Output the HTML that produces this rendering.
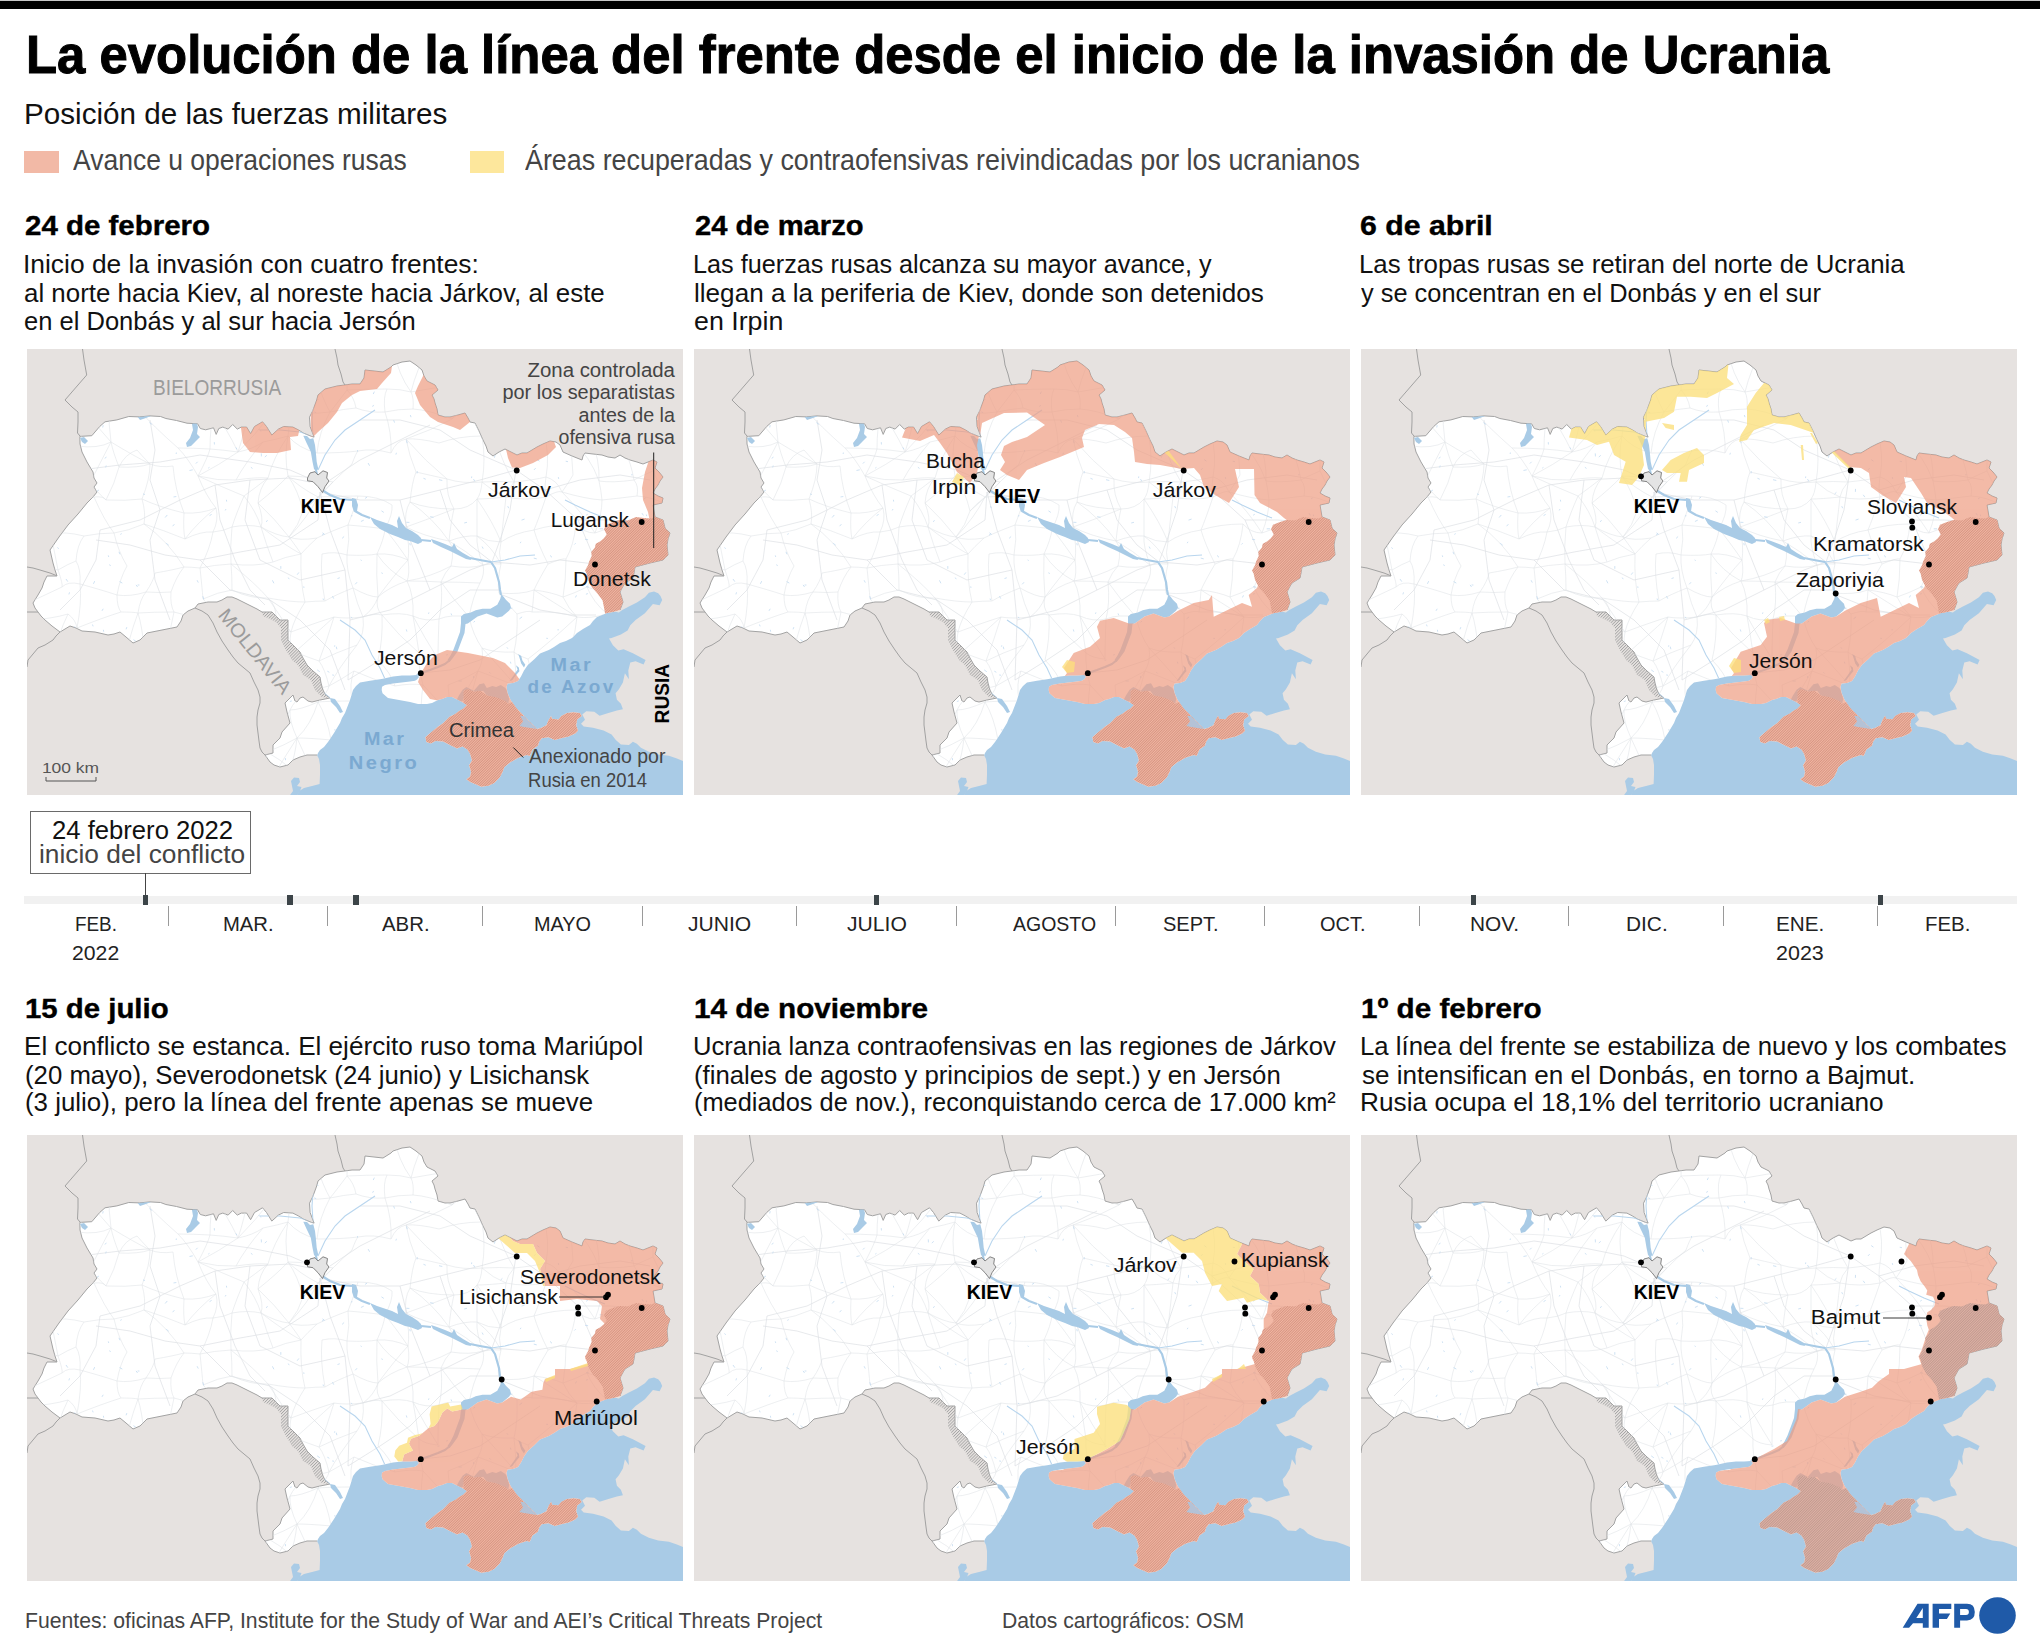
<!DOCTYPE html><html><head><meta charset="utf-8"><title>La evolución de la línea del frente</title><style>
html,body{margin:0;padding:0;background:#fff}body{width:2040px;height:1652px;position:relative;overflow:hidden;font-family:"Liberation Sans",sans-serif}
.t{position:absolute;white-space:nowrap;line-height:1;transform-origin:0 0}
.map{position:absolute;display:block}svg text{font-family:"Liberation Sans",sans-serif}
.abs{position:absolute}
</style></head><body>
<div class="abs" style="left:0;top:0;width:2040px;height:1px;background:#c8c8c8"></div>
<div class="abs" style="left:0;top:1px;width:2040px;height:8px;background:#000"></div>
<svg width="0" height="0" style="position:absolute"><defs>
<clipPath id="ua"><path d="M79.9 436.4 L91.8 435.7 L99.7 426.5 L105.0 421.8 L116.9 419.9 L128.8 416.5 L139.4 416.9 L150.0 415.9 L160.6 416.5 L165.9 418.5 L176.5 420.5 L187.0 423.2 L197.6 423.8 L200.3 428.5 L205.6 429.8 L213.5 427.8 L216.2 434.4 L218.8 428.5 L222.8 427.1 L228.1 429.1 L232.7 424.5 L237.3 429.1 L241.3 427.1 L246.6 427.1 L250.6 433.7 L254.5 426.5 L262.5 421.8 L266.5 426.5 L271.8 435.1 L278.4 429.1 L283.7 426.5 L292.9 427.1 L298.2 429.8 L303.5 433.1 L311.5 436.4 L314.1 437.1 L310.1 426.5 L309.5 417.2 L312.8 410.6 L316.7 400.0 L318.0 395.0 L325.0 389.0 L337.0 386.0 L352.0 384.0 L360.0 384.0 L364.0 378.0 L365.0 370.0 L374.0 371.0 L383.0 372.0 L391.0 367.0 L393.0 365.0 L402.0 362.0 L410.0 361.0 L416.0 365.0 L422.0 370.0 L424.0 376.0 L427.0 381.0 L435.0 385.0 L438.0 390.0 L432.0 395.0 L434.0 399.0 L435.0 403.0 L437.0 409.0 L438.0 415.0 L445.0 417.0 L450.0 417.0 L458.0 415.0 L465.0 413.0 L468.0 418.0 L470.0 422.0 L475.0 423.0 L479.0 431.0 L483.0 440.0 L486.0 446.0 L488.0 452.0 L493.0 456.0 L499.0 452.0 L505.0 449.0 L511.0 452.0 L517.0 455.0 L522.0 453.0 L527.0 453.0 L532.0 450.0 L537.0 447.0 L543.0 444.0 L550.0 441.0 L556.0 442.0 L560.0 445.0 L563.0 452.0 L572.0 456.0 L582.0 460.0 L583.0 456.0 L585.0 453.0 L593.0 454.0 L602.0 455.0 L608.0 457.0 L615.0 458.0 L620.0 455.0 L625.0 458.0 L630.0 460.0 L637.0 462.0 L643.0 464.0 L648.0 462.0 L653.0 460.0 L657.0 462.0 L655.0 468.0 L659.0 472.0 L663.0 477.0 L660.0 481.0 L658.0 485.0 L655.0 489.0 L653.0 493.0 L658.0 496.0 L663.0 498.0 L662.0 503.0 L653.0 505.0 L654.0 511.0 L655.0 517.0 L663.0 520.0 L664.0 524.0 L665.0 528.0 L670.0 533.0 L668.0 539.0 L667.0 545.0 L668.0 555.0 L663.0 560.0 L650.0 563.0 L635.0 567.0 L634.0 573.0 L633.0 578.0 L625.0 583.0 L622.0 588.0 L620.0 592.0 L623.0 602.0 L620.0 610.0 L613.0 612.0 L607.0 613.0 L597.0 617.0 L593.0 621.0 L590.0 625.0 L583.0 629.0 L577.0 633.0 L572.0 638.0 L566.0 641.0 L560.0 643.0 L554.0 647.0 L548.8 650.0 L540.0 653.5 L534.0 659.4 L528.0 664.7 L524.0 670.6 L521.0 676.5 L518.0 681.0 L513.0 683.0 L507.6 683.5 L506.5 687.0 L507.6 693.0 L510.6 700.0 L516.6 708.4 L524.1 715.9 L533.4 725.2 L537.1 728.9 L540.8 728.0 L546.4 725.2 L548.3 720.5 L551.1 715.9 L552.0 718.7 L558.5 719.6 L561.3 715.9 L566.9 713.1 L573.4 712.2 L580.0 713.1 L581.8 715.9 L577.2 719.6 L576.2 725.2 L578.1 730.8 L575.3 733.6 L568.8 736.4 L561.3 738.2 L554.8 740.1 L548.3 737.3 L541.8 738.2 L539.0 742.0 L538.0 745.7 L532.5 749.4 L529.7 755.9 L526.9 755.0 L518.5 757.8 L510.1 762.5 L504.5 767.1 L502.7 771.8 L499.9 777.3 L494.3 782.9 L488.7 785.7 L481.2 786.7 L476.6 784.8 L470.1 782.0 L466.3 779.2 L470.1 776.4 L471.0 771.8 L469.1 765.2 L471.9 760.6 L470.1 754.1 L467.3 749.4 L462.6 746.6 L457.0 748.5 L451.4 745.7 L443.0 741.5 L435.6 741.0 L430.9 743.4 L426.3 742.0 L425.4 737.3 L430.9 732.6 L437.5 727.1 L443.0 723.3 L449.6 716.8 L455.2 714.0 L458.9 711.2 L463.5 708.4 L467.0 705.0 L462.0 702.0 L458.0 700.0 L452.0 697.0 L447.0 697.0 L442.0 699.0 L438.0 700.0 L432.0 703.0 L427.0 704.0 L418.0 704.0 L410.0 702.0 L399.0 700.0 L388.0 698.0 L382.5 693.3 L381.7 690.0 L382.0 686.7 L385.0 685.0 L393.0 683.5 L401.7 682.5 L410.0 681.5 L415.0 680.8 L417.0 679.5 L419.0 677.0 L417.0 675.0 L410.0 675.5 L402.0 675.5 L393.0 676.5 L381.7 679.0 L370.0 680.8 L360.0 682.5 L356.0 686.0 L353.0 690.0 L350.0 700.0 L345.0 713.0 L342.0 718.0 L340.0 723.0 L334.0 733.0 L328.0 742.0 L324.0 747.0 L320.0 750.0 L318.0 753.0 L317.0 755.0 L307.0 755.0 L300.0 757.0 L293.0 760.0 L288.0 765.0 L280.0 767.0 L274.0 765.0 L270.0 762.0 L265.0 755.0 L273.0 753.0 L273.0 745.0 L280.0 738.0 L282.0 732.0 L290.0 723.0 L287.0 712.0 L285.0 703.0 L289.0 699.0 L293.0 695.0 L295.0 701.0 L297.0 702.0 L300.0 698.0 L303.0 697.0 L308.0 701.0 L312.0 702.0 L320.0 700.0 L330.0 698.0 L325.0 694.0 L323.0 690.0 L321.0 683.0 L320.0 677.0 L313.0 671.0 L307.0 665.0 L303.0 658.0 L300.0 652.0 L294.0 646.0 L288.0 640.0 L288.0 630.0 L288.0 620.0 L280.0 620.0 L276.0 616.0 L272.0 612.0 L262.0 612.0 L257.0 609.0 L253.0 607.0 L245.0 603.0 L237.0 599.0 L232.0 597.0 L227.0 597.0 L222.0 600.0 L217.0 602.0 L208.0 602.0 L198.0 604.0 L195.0 608.0 L188.0 611.0 L183.0 615.0 L181.0 621.0 L177.0 627.0 L162.0 630.0 L147.0 633.0 L143.0 637.0 L140.0 640.0 L133.0 643.0 L126.0 637.0 L120.0 632.0 L114.0 634.0 L108.0 635.0 L95.0 632.0 L82.0 631.0 L76.0 628.0 L70.0 626.0 L65.0 629.0 L60.0 632.0 L52.0 626.0 L45.0 620.0 L41.0 616.0 L38.0 612.0 L35.0 608.0 L33.0 603.0 L38.0 595.0 L42.0 588.0 L44.0 582.0 L47.0 576.0 L57.0 576.0 L55.0 570.0 L53.0 563.0 L50.0 550.0 L59.0 537.0 L68.0 525.0 L78.0 514.0 L87.0 503.0 L93.0 497.0 L97.0 492.0 L94.0 487.0 L97.0 483.0 L94.0 478.0 L93.0 472.0 L87.0 462.0 L82.0 452.0 L80.0 444.0 Z"/></clipPath>
<pattern id="hatch" width="1.8" height="1.8" patternUnits="userSpaceOnUse" patternTransform="rotate(-45)"><rect width="1.8" height="1.8" fill="#f0b6a3"/><rect width="1.8" height="0.7" fill="#d08c78"/></pattern>
<pattern id="hatch6" width="1.8" height="1.8" patternUnits="userSpaceOnUse" patternTransform="rotate(-45)"><rect width="1.8" height="1.8" fill="#deb1a4"/><rect width="1.8" height="0.7" fill="#b9948a"/></pattern>
<pattern id="hatchg" width="2.2" height="2.2" patternUnits="userSpaceOnUse" patternTransform="rotate(-45)"><rect width="2.2" height="2.2" fill="#e6e2e0"/><rect width="2.2" height="0.8" fill="#a5a5a5"/></pattern>
<g id="base">
<rect x="27" y="349" width="656" height="446" fill="#e6e2e0"/>
<path d="M317.0 755.0 L319.0 759.0 L320.0 765.0 L320.0 775.0 L319.6 784.0 L314.0 785.6 L304.0 788.0 L299.2 791.0 L296.8 796.0 L683.0 796.0 L683.0 761.0 L676.9 758.4 L668.9 755.8 L658.2 754.4 L648.9 751.8 L640.9 747.8 L636.9 743.8 L632.9 741.8 L628.9 745.1 L620.9 744.4 L615.6 739.8 L611.6 734.5 L603.6 730.5 L593.0 727.8 L583.7 726.5 L581.0 723.8 L585.0 719.8 L582.3 714.5 L586.3 711.2 L594.3 711.8 L599.6 715.8 L607.6 713.2 L616.9 710.5 L622.9 709.2 L620.9 703.8 L616.9 699.8 L615.6 693.2 L618.9 689.2 L622.9 682.5 L624.9 673.2 L628.9 679.2 L628.3 670.5 L630.3 662.6 L635.6 661.2 L643.6 664.6 L645.6 659.9 L632.9 653.2 L623.6 649.2 L618.3 650.6 L612.9 645.2 L609.0 638.6 L611.6 637.9 L620.9 634.6 L627.6 630.6 L630.3 625.3 L635.6 620.0 L644.9 613.3 L652.9 604.0 L659.6 605.3 L662.2 600.0 L660.5 596.0 L658.2 593.3 L654.0 591.5 L648.9 592.7 L644.9 597.3 L636.9 602.6 L628.9 606.6 L622.3 610.0 L618.9 612.6 L560.0 600.0 L480.0 640.0 L420.0 660.0 L350.0 680.0 L330.0 720.0 Z" fill="#a9cbe6"/>
<path d="M289.4 796.0 L293.0 791.0 L292.0 786.0 L291.0 781.0 L294.0 777.5 L299.0 778.0 L300.0 782.0 L297.0 786.0 L301.5 787.0 L300.0 791.0 L296.8 796.0 Z" fill="#a9cbe6"/>
<path d="M82.5 349.0 L84.0 360.0 L86.7 375.0 L78.0 385.0 L65.0 400.0 L72.0 407.0 L78.0 412.0 L78.0 422.0 L77.5 433.0 L80.0 436.0" fill="none" stroke="#9a9a9a" stroke-width="0.9"/>
<path d="M335.0 349.0 L337.0 358.0 L338.0 365.0 L341.0 374.0 L343.0 382.0 L345.0 385.0" fill="none" stroke="#9a9a9a" stroke-width="0.9"/>
<path d="M27.0 567.0 L33.0 568.0 L40.0 570.0 L50.0 573.0 L57.5 576.0" fill="none" stroke="#9a9a9a" stroke-width="0.9"/>
<path d="M27.0 612.0 L33.0 612.0 L38.0 612.0" fill="none" stroke="#9a9a9a" stroke-width="0.9"/>
<path d="M60.0 632.0 L56.0 636.0 L53.0 640.0 L45.0 645.0 L38.0 648.0 L33.0 654.0 L28.0 660.0 L27.0 667.0" fill="none" stroke="#9a9a9a" stroke-width="0.9"/>
<path d="M195.0 608.0 L202.0 611.0 L208.0 615.0 L213.0 623.0 L217.0 632.0 L222.0 641.0 L228.0 650.0 L233.0 657.0 L238.0 663.0 L244.0 668.0 L250.0 673.0 L254.0 682.0 L258.0 690.0 L260.0 697.0 L260.0 703.0 L258.0 710.0 L257.0 717.0 L257.0 725.0 L258.0 733.0 L259.0 741.0 L260.0 748.0 L262.0 752.0 L265.0 755.0" fill="none" stroke="#9a9a9a" stroke-width="0.9"/>
<path d="M262.0 612.0 L272.0 612.0 L280.0 620.0 L288.0 620.0 L288.0 640.0 L300.0 652.0 L307.0 665.0 L320.0 677.0 L323.0 690.0 L330.0 698.0 L322.0 697.0 L315.0 690.0 L311.0 680.0 L303.0 675.0 L298.0 665.0 L292.0 660.0 L286.0 650.0 L281.0 640.0 L281.0 628.0 L276.0 622.0 L268.0 618.0 L263.0 616.0 Z" fill="url(#hatchg)"/>
<path d="M79.9 436.4 L91.8 435.7 L99.7 426.5 L105.0 421.8 L116.9 419.9 L128.8 416.5 L139.4 416.9 L150.0 415.9 L160.6 416.5 L165.9 418.5 L176.5 420.5 L187.0 423.2 L197.6 423.8 L200.3 428.5 L205.6 429.8 L213.5 427.8 L216.2 434.4 L218.8 428.5 L222.8 427.1 L228.1 429.1 L232.7 424.5 L237.3 429.1 L241.3 427.1 L246.6 427.1 L250.6 433.7 L254.5 426.5 L262.5 421.8 L266.5 426.5 L271.8 435.1 L278.4 429.1 L283.7 426.5 L292.9 427.1 L298.2 429.8 L303.5 433.1 L311.5 436.4 L314.1 437.1 L310.1 426.5 L309.5 417.2 L312.8 410.6 L316.7 400.0 L318.0 395.0 L325.0 389.0 L337.0 386.0 L352.0 384.0 L360.0 384.0 L364.0 378.0 L365.0 370.0 L374.0 371.0 L383.0 372.0 L391.0 367.0 L393.0 365.0 L402.0 362.0 L410.0 361.0 L416.0 365.0 L422.0 370.0 L424.0 376.0 L427.0 381.0 L435.0 385.0 L438.0 390.0 L432.0 395.0 L434.0 399.0 L435.0 403.0 L437.0 409.0 L438.0 415.0 L445.0 417.0 L450.0 417.0 L458.0 415.0 L465.0 413.0 L468.0 418.0 L470.0 422.0 L475.0 423.0 L479.0 431.0 L483.0 440.0 L486.0 446.0 L488.0 452.0 L493.0 456.0 L499.0 452.0 L505.0 449.0 L511.0 452.0 L517.0 455.0 L522.0 453.0 L527.0 453.0 L532.0 450.0 L537.0 447.0 L543.0 444.0 L550.0 441.0 L556.0 442.0 L560.0 445.0 L563.0 452.0 L572.0 456.0 L582.0 460.0 L583.0 456.0 L585.0 453.0 L593.0 454.0 L602.0 455.0 L608.0 457.0 L615.0 458.0 L620.0 455.0 L625.0 458.0 L630.0 460.0 L637.0 462.0 L643.0 464.0 L648.0 462.0 L653.0 460.0 L657.0 462.0 L655.0 468.0 L659.0 472.0 L663.0 477.0 L660.0 481.0 L658.0 485.0 L655.0 489.0 L653.0 493.0 L658.0 496.0 L663.0 498.0 L662.0 503.0 L653.0 505.0 L654.0 511.0 L655.0 517.0 L663.0 520.0 L664.0 524.0 L665.0 528.0 L670.0 533.0 L668.0 539.0 L667.0 545.0 L668.0 555.0 L663.0 560.0 L650.0 563.0 L635.0 567.0 L634.0 573.0 L633.0 578.0 L625.0 583.0 L622.0 588.0 L620.0 592.0 L623.0 602.0 L620.0 610.0 L613.0 612.0 L607.0 613.0 L597.0 617.0 L593.0 621.0 L590.0 625.0 L583.0 629.0 L577.0 633.0 L572.0 638.0 L566.0 641.0 L560.0 643.0 L554.0 647.0 L548.8 650.0 L540.0 653.5 L534.0 659.4 L528.0 664.7 L524.0 670.6 L521.0 676.5 L518.0 681.0 L513.0 683.0 L507.6 683.5 L506.5 687.0 L507.6 693.0 L510.6 700.0 L516.6 708.4 L524.1 715.9 L533.4 725.2 L537.1 728.9 L540.8 728.0 L546.4 725.2 L548.3 720.5 L551.1 715.9 L552.0 718.7 L558.5 719.6 L561.3 715.9 L566.9 713.1 L573.4 712.2 L580.0 713.1 L581.8 715.9 L577.2 719.6 L576.2 725.2 L578.1 730.8 L575.3 733.6 L568.8 736.4 L561.3 738.2 L554.8 740.1 L548.3 737.3 L541.8 738.2 L539.0 742.0 L538.0 745.7 L532.5 749.4 L529.7 755.9 L526.9 755.0 L518.5 757.8 L510.1 762.5 L504.5 767.1 L502.7 771.8 L499.9 777.3 L494.3 782.9 L488.7 785.7 L481.2 786.7 L476.6 784.8 L470.1 782.0 L466.3 779.2 L470.1 776.4 L471.0 771.8 L469.1 765.2 L471.9 760.6 L470.1 754.1 L467.3 749.4 L462.6 746.6 L457.0 748.5 L451.4 745.7 L443.0 741.5 L435.6 741.0 L430.9 743.4 L426.3 742.0 L425.4 737.3 L430.9 732.6 L437.5 727.1 L443.0 723.3 L449.6 716.8 L455.2 714.0 L458.9 711.2 L463.5 708.4 L467.0 705.0 L462.0 702.0 L458.0 700.0 L452.0 697.0 L447.0 697.0 L442.0 699.0 L438.0 700.0 L432.0 703.0 L427.0 704.0 L418.0 704.0 L410.0 702.0 L399.0 700.0 L388.0 698.0 L382.5 693.3 L381.7 690.0 L382.0 686.7 L385.0 685.0 L393.0 683.5 L401.7 682.5 L410.0 681.5 L415.0 680.8 L417.0 679.5 L419.0 677.0 L417.0 675.0 L410.0 675.5 L402.0 675.5 L393.0 676.5 L381.7 679.0 L370.0 680.8 L360.0 682.5 L356.0 686.0 L353.0 690.0 L350.0 700.0 L345.0 713.0 L342.0 718.0 L340.0 723.0 L334.0 733.0 L328.0 742.0 L324.0 747.0 L320.0 750.0 L318.0 753.0 L317.0 755.0 L307.0 755.0 L300.0 757.0 L293.0 760.0 L288.0 765.0 L280.0 767.0 L274.0 765.0 L270.0 762.0 L265.0 755.0 L273.0 753.0 L273.0 745.0 L280.0 738.0 L282.0 732.0 L290.0 723.0 L287.0 712.0 L285.0 703.0 L289.0 699.0 L293.0 695.0 L295.0 701.0 L297.0 702.0 L300.0 698.0 L303.0 697.0 L308.0 701.0 L312.0 702.0 L320.0 700.0 L330.0 698.0 L325.0 694.0 L323.0 690.0 L321.0 683.0 L320.0 677.0 L313.0 671.0 L307.0 665.0 L303.0 658.0 L300.0 652.0 L294.0 646.0 L288.0 640.0 L288.0 630.0 L288.0 620.0 L280.0 620.0 L276.0 616.0 L272.0 612.0 L262.0 612.0 L257.0 609.0 L253.0 607.0 L245.0 603.0 L237.0 599.0 L232.0 597.0 L227.0 597.0 L222.0 600.0 L217.0 602.0 L208.0 602.0 L198.0 604.0 L195.0 608.0 L188.0 611.0 L183.0 615.0 L181.0 621.0 L177.0 627.0 L162.0 630.0 L147.0 633.0 L143.0 637.0 L140.0 640.0 L133.0 643.0 L126.0 637.0 L120.0 632.0 L114.0 634.0 L108.0 635.0 L95.0 632.0 L82.0 631.0 L76.0 628.0 L70.0 626.0 L65.0 629.0 L60.0 632.0 L52.0 626.0 L45.0 620.0 L41.0 616.0 L38.0 612.0 L35.0 608.0 L33.0 603.0 L38.0 595.0 L42.0 588.0 L44.0 582.0 L47.0 576.0 L57.0 576.0 L55.0 570.0 L53.0 563.0 L50.0 550.0 L59.0 537.0 L68.0 525.0 L78.0 514.0 L87.0 503.0 L93.0 497.0 L97.0 492.0 L94.0 487.0 L97.0 483.0 L94.0 478.0 L93.0 472.0 L87.0 462.0 L82.0 452.0 L80.0 444.0 Z" fill="#fff"/>
<path d="M79.9 436.4 L91.8 435.7 L99.7 426.5 L105.0 421.8 L116.9 419.9 L128.8 416.5 L139.4 416.9 L150.0 415.9 L160.6 416.5 L165.9 418.5 L176.5 420.5 L187.0 423.2 L197.6 423.8 L200.3 428.5 L205.6 429.8 L213.5 427.8 L216.2 434.4 L218.8 428.5 L222.8 427.1 L228.1 429.1 L232.7 424.5 L237.3 429.1 L241.3 427.1 L246.6 427.1 L250.6 433.7 L254.5 426.5 L262.5 421.8 L266.5 426.5 L271.8 435.1 L278.4 429.1 L283.7 426.5 L292.9 427.1 L298.2 429.8 L303.5 433.1 L311.5 436.4 L314.1 437.1 L310.1 426.5 L309.5 417.2 L312.8 410.6 L316.7 400.0 L318.0 395.0 L325.0 389.0 L337.0 386.0 L352.0 384.0 L360.0 384.0 L364.0 378.0 L365.0 370.0 L374.0 371.0 L383.0 372.0 L391.0 367.0 L393.0 365.0 L402.0 362.0 L410.0 361.0 L416.0 365.0 L422.0 370.0 L424.0 376.0 L427.0 381.0 L435.0 385.0 L438.0 390.0 L432.0 395.0 L434.0 399.0 L435.0 403.0 L437.0 409.0 L438.0 415.0 L445.0 417.0 L450.0 417.0 L458.0 415.0 L465.0 413.0 L468.0 418.0 L470.0 422.0 L475.0 423.0 L479.0 431.0 L483.0 440.0 L486.0 446.0 L488.0 452.0 L493.0 456.0 L499.0 452.0 L505.0 449.0 L511.0 452.0 L517.0 455.0 L522.0 453.0 L527.0 453.0 L532.0 450.0 L537.0 447.0 L543.0 444.0 L550.0 441.0 L556.0 442.0 L560.0 445.0 L563.0 452.0 L572.0 456.0 L582.0 460.0 L583.0 456.0 L585.0 453.0 L593.0 454.0 L602.0 455.0 L608.0 457.0 L615.0 458.0 L620.0 455.0 L625.0 458.0 L630.0 460.0 L637.0 462.0 L643.0 464.0 L648.0 462.0 L653.0 460.0 L657.0 462.0 L655.0 468.0 L659.0 472.0 L663.0 477.0 L660.0 481.0 L658.0 485.0 L655.0 489.0 L653.0 493.0 L658.0 496.0 L663.0 498.0 L662.0 503.0 L653.0 505.0 L654.0 511.0 L655.0 517.0 L663.0 520.0 L664.0 524.0 L665.0 528.0 L670.0 533.0 L668.0 539.0 L667.0 545.0 L668.0 555.0 L663.0 560.0 L650.0 563.0 L635.0 567.0 L634.0 573.0 L633.0 578.0 L625.0 583.0 L622.0 588.0 L620.0 592.0 L623.0 602.0 L620.0 610.0" fill="none" stroke="#a3a3a3" stroke-width="1" stroke-linejoin="round"/>
<path d="M317.0 755.0 L307.0 755.0 L300.0 757.0 L293.0 760.0 L288.0 765.0 L280.0 767.0 L274.0 765.0 L270.0 762.0 L265.0 755.0 L273.0 753.0 L273.0 745.0 L280.0 738.0 L282.0 732.0 L290.0 723.0 L287.0 712.0 L285.0 703.0 L289.0 699.0 L293.0 695.0 L295.0 701.0 L297.0 702.0 L300.0 698.0 L303.0 697.0 L308.0 701.0 L312.0 702.0 L320.0 700.0 L330.0 698.0 L325.0 694.0 L323.0 690.0 L321.0 683.0 L320.0 677.0 L313.0 671.0 L307.0 665.0 L303.0 658.0 L300.0 652.0 L294.0 646.0 L288.0 640.0 L288.0 630.0 L288.0 620.0 L280.0 620.0 L276.0 616.0 L272.0 612.0 L262.0 612.0 L257.0 609.0 L253.0 607.0 L245.0 603.0 L237.0 599.0 L232.0 597.0 L227.0 597.0 L222.0 600.0 L217.0 602.0 L208.0 602.0 L198.0 604.0 L195.0 608.0 L188.0 611.0 L183.0 615.0 L181.0 621.0 L177.0 627.0 L162.0 630.0 L147.0 633.0 L143.0 637.0 L140.0 640.0 L133.0 643.0 L126.0 637.0 L120.0 632.0 L114.0 634.0 L108.0 635.0 L95.0 632.0 L82.0 631.0 L76.0 628.0 L70.0 626.0 L65.0 629.0 L60.0 632.0 L52.0 626.0 L45.0 620.0 L41.0 616.0 L38.0 612.0 L35.0 608.0 L33.0 603.0 L38.0 595.0 L42.0 588.0 L44.0 582.0 L47.0 576.0 L57.0 576.0 L55.0 570.0 L53.0 563.0 L50.0 550.0 L59.0 537.0 L68.0 525.0 L78.0 514.0 L87.0 503.0 L93.0 497.0 L97.0 492.0 L94.0 487.0 L97.0 483.0 L94.0 478.0 L93.0 472.0 L87.0 462.0 L82.0 452.0 L80.0 444.0 L79.9 436.4" fill="none" stroke="#a3a3a3" stroke-width="1" stroke-linejoin="round"/>
<g clip-path="url(#ua)" fill="none">
<path d="M23 344Q45 346 58 342M23 344Q28 357 30 373M30 373Q36 369 47 376M30 373Q28 395 28 409M30 373Q50 389 61 410M28 409Q37 391 47 376M17 442Q16 460 17 471M17 442Q36 458 56 468M17 471Q32 465 56 468M18 493Q19 521 25 539M25 539Q37 534 51 534M25 539Q25 552 19 556M19 556Q35 563 58 570M30 602Q45 595 62 587M29 620Q51 619 68 614M29 620Q31 629 37 642M37 642Q43 652 55 658M37 642Q32 655 35 677M19 704Q29 710 47 716M19 704Q20 724 23 749M23 749Q45 750 63 744M23 749Q18 765 20 774M20 774Q45 768 65 768M20 774Q22 783 30 799M30 799Q45 807 61 804M58 342Q76 348 89 351M58 342Q76 370 94 392M47 376Q65 392 86 416M61 410Q61 426 53 444M53 444Q68 450 77 446M53 444Q55 457 56 468M56 468Q70 473 90 483M56 468Q61 484 63 506M56 468Q73 484 94 497M63 506Q76 505 94 497M63 506Q53 516 51 534M51 534Q64 531 84 536M51 534Q54 550 58 570M58 570Q68 564 76 561M58 570Q63 584 62 587M62 587Q68 581 80 584M68 614Q76 620 77 628M68 614Q57 636 55 658M55 658Q68 651 79 646M55 658Q49 668 49 682M49 682Q67 689 85 690M49 682Q69 669 79 646M47 716Q58 718 78 711M47 716Q59 731 63 744M47 716Q69 700 85 690M63 744Q79 750 88 750M63 744Q61 755 65 768M65 768Q77 776 94 780M65 768Q74 787 82 800M65 768Q80 755 88 750M61 804Q72 803 82 800M89 351Q102 355 114 360M89 351Q91 371 94 392M89 351Q109 363 127 374M94 392Q113 386 127 374M94 392Q87 403 86 416M94 392Q98 398 110 406M94 392Q104 376 114 360M86 416Q100 407 110 406M86 416Q85 431 77 446M86 416Q99 427 111 442M77 446Q98 449 111 442M77 446Q87 462 90 483M90 483Q101 496 106 500M90 483Q99 465 111 442M94 497Q104 496 106 500M94 497Q104 520 114 533M84 536Q99 533 114 533M84 536Q77 545 76 561M76 561Q81 569 80 584M80 584Q102 590 117 595M80 584Q82 602 77 628M77 628Q102 618 121 612M79 646Q102 649 126 658M79 646Q77 672 85 690M85 690Q83 699 78 711M85 690Q95 696 115 710M78 711Q96 714 115 710M78 711Q80 732 88 750M78 711Q88 726 108 745M78 711Q100 697 125 689M88 750Q99 745 108 745M88 750Q91 762 94 780M94 780Q97 773 107 762M82 800Q91 799 111 795M114 360Q130 351 143 342M127 374Q136 370 136 374M127 374Q118 388 110 406M127 374Q135 387 138 409M110 406Q108 425 111 442M111 442Q113 452 119 467M111 442Q134 456 150 464M119 467Q138 468 150 464M119 467Q115 483 106 500M119 467Q125 454 137 450M106 500Q126 501 142 499M114 533Q128 531 144 524M114 533Q118 551 127 566M127 566Q120 578 117 595M117 595Q130 597 146 592M117 595Q117 607 121 612M121 612Q134 612 138 613M126 658Q137 653 144 647M126 658Q123 675 125 689M126 658Q144 663 154 675M126 658Q128 640 138 613M125 689Q136 677 154 675M125 689Q122 701 115 710M115 710Q126 714 137 722M108 745Q132 744 148 734M108 745Q125 749 148 762M108 745Q126 737 137 722M107 762Q131 763 148 762M107 762Q105 775 111 795M111 795Q128 799 148 813M143 342Q166 348 185 356M143 342Q144 358 136 374M136 374Q149 376 172 379M136 374Q140 390 138 409M138 409Q158 409 170 418M138 409Q153 426 178 448M137 450Q143 457 150 464M150 464Q160 468 173 466M150 464Q150 479 142 499M142 499Q159 507 184 513M142 499Q146 513 144 524M144 524Q163 530 185 539M144 524Q168 541 184 567M155 573Q173 570 184 567M155 573Q154 580 146 592M146 592Q161 593 171 592M146 592Q140 599 138 613M138 613Q153 612 174 612M138 613Q142 626 144 647M144 647Q152 645 167 647M144 647Q152 657 154 675M144 647Q155 665 172 686M154 675Q161 677 172 686M154 675Q165 657 167 647M137 722Q167 719 187 711M137 722Q141 725 148 734M137 722Q151 703 172 686M148 734Q166 746 187 753M148 734Q148 749 148 762M148 734Q168 722 187 711M148 762Q172 765 187 769M148 762Q150 786 148 813M185 356Q196 353 200 345M185 356Q178 366 172 379M172 379Q190 388 210 391M172 379Q172 396 170 418M170 418Q191 417 214 412M178 448Q193 448 210 449M178 448Q188 458 198 476M173 466Q175 490 184 513M184 513Q201 514 216 508M184 513Q183 530 185 539M185 539Q201 531 213 532M185 539Q198 522 216 508M184 567Q191 567 200 568M184 567Q176 577 171 592M171 592Q170 605 174 612M174 612Q198 619 217 620M174 612Q170 630 167 647M167 647Q187 658 205 662M172 686Q188 684 212 675M172 686Q183 696 187 711M187 711Q190 703 199 704M187 711Q185 729 187 753M187 753Q203 752 216 749M187 753Q191 764 187 769M187 753Q196 770 199 779M187 769Q196 775 199 779M187 769Q174 787 171 796M171 796Q191 798 218 805M200 345Q214 353 234 353M200 345Q202 372 210 391M210 391Q221 385 229 371M210 391Q215 398 214 412M214 412Q230 417 247 415M214 412Q210 427 210 449M214 412Q226 427 238 452M210 449Q224 450 238 452M210 449Q208 457 198 476M198 476Q218 481 236 480M198 476Q206 496 216 508M198 476Q222 487 244 496M198 476Q219 465 238 452M216 508Q219 520 213 532M213 532Q224 531 232 527M213 532Q210 549 200 568M200 568Q213 565 231 564M200 568Q202 587 203 599M203 599Q218 592 232 590M203 599Q215 611 217 620M217 620Q221 626 229 631M217 620Q214 636 205 662M205 662Q215 654 234 651M205 662Q205 672 212 675M212 675Q229 684 239 691M212 675Q207 691 199 704M199 704Q219 712 235 721M199 704Q203 723 216 749M199 704Q221 728 237 743M216 749Q230 749 237 743M216 749Q205 762 199 779M199 779Q220 775 238 761M199 779Q209 788 218 805M199 779Q221 788 236 795M218 805Q222 799 236 795M229 371Q240 378 260 381M229 371Q235 388 247 415M229 371Q252 388 272 413M247 415Q263 411 272 413M247 415Q245 431 238 452M238 452Q253 449 263 442M238 452Q256 434 272 413M236 480Q256 477 268 478M236 480Q245 463 263 442M244 496Q236 514 232 527M244 496Q256 511 261 527M244 496Q255 488 268 478M232 527Q248 524 261 527M232 527Q230 547 231 564M231 564Q255 567 273 562M231 564Q232 575 232 590M231 564Q255 583 268 598M232 590Q251 599 268 598M229 631Q256 625 276 621M229 631Q232 645 234 651M234 651Q249 651 269 652M234 651Q239 675 239 691M234 651Q254 672 267 686M239 691Q251 692 267 686M235 721Q246 717 266 713M235 721Q233 734 237 743M237 743Q254 747 267 752M237 743Q235 755 238 761M238 761Q258 774 271 780M238 761Q237 782 236 795M236 795Q257 793 277 797M256 359Q279 359 298 362M256 359Q257 370 260 381M256 359Q276 371 304 374M260 381Q278 379 304 374M260 381Q262 398 272 413M272 413Q276 417 289 411M263 442Q278 439 288 436M268 478Q259 488 258 503M268 478Q273 458 288 436M258 503Q264 519 261 527M258 503Q275 519 289 537M258 503Q278 487 288 476M261 527Q277 536 289 537M261 527Q266 544 273 562M261 527Q286 546 301 554M273 562Q284 557 301 554M268 598Q290 602 305 602M268 598Q277 605 276 621M268 598Q282 619 291 632M276 621Q284 629 291 632M276 621Q271 634 269 652M276 621Q285 633 295 652M269 652Q284 647 295 652M269 652Q265 665 267 686M267 686Q280 665 295 652M267 752Q285 745 297 738M267 752Q265 763 271 780M267 752Q281 760 290 768M267 752Q282 729 290 710M271 780Q277 772 290 768M271 780Q284 758 297 738M277 797Q288 778 290 768M298 362Q299 368 304 374M304 374Q307 375 316 378M289 411Q307 415 330 412M289 411Q290 421 288 436M289 411Q306 393 316 378M288 436Q298 448 317 453M288 436Q284 455 288 476M288 476Q307 476 333 482M288 476Q298 490 303 511M288 476Q299 487 318 497M303 511Q308 505 318 497M303 511Q299 525 289 537M303 511Q321 496 333 482M289 537Q299 541 317 538M289 537Q298 549 301 554M289 537Q308 517 318 497M301 554Q300 582 305 602M301 554Q307 547 317 538M305 602Q316 601 325 601M305 602Q294 619 291 632M291 632Q315 623 334 617M291 632Q288 646 295 652M295 652Q307 657 319 661M295 652Q306 668 308 689M295 652Q312 637 334 617M308 689Q314 690 329 686M308 689Q294 701 290 710M290 710Q300 710 318 702M290 710Q289 721 297 738M297 738Q310 738 331 740M297 738Q295 757 290 768M297 738Q308 763 318 782M297 738Q311 725 318 702M290 768Q303 778 318 782M290 768Q295 784 302 791M302 791Q314 799 330 809M316 378Q323 400 330 412M330 412Q344 409 356 408M330 412Q319 432 317 453M330 412Q335 406 347 390M317 453Q342 453 358 451M333 482Q344 471 352 464M333 482Q324 490 318 497M318 497Q338 496 358 496M317 538Q329 532 348 525M322 554Q335 551 347 555M322 554Q320 575 325 601M325 601Q335 595 353 588M334 617Q345 619 363 617M334 617Q327 640 319 661M319 661Q335 653 357 645M319 661Q325 669 329 686M329 686Q342 679 354 671M329 686Q328 692 318 702M329 686Q338 669 357 645M318 702Q330 701 352 701M318 702Q327 717 331 740M331 740Q343 740 362 743M331 740Q326 762 318 782M318 782Q336 779 350 771M318 782Q324 798 330 809M330 809Q352 796 367 793M348 360Q371 360 394 351M348 360Q347 378 347 390M347 390Q366 389 387 389M347 390Q354 397 356 408M356 408Q369 413 385 412M358 451Q373 448 391 453M358 451Q356 453 352 464M358 496Q379 496 392 505M358 496Q354 510 348 525M348 525Q372 527 385 529M348 525Q350 539 347 555M347 555Q367 556 377 554M347 555Q346 570 353 588M353 588Q369 597 378 597M353 588Q357 604 363 617M363 617Q375 613 382 615M363 617Q365 634 357 645M363 617Q374 609 378 597M354 671Q372 679 395 686M354 671Q349 683 352 701M352 701Q372 705 382 706M352 701Q356 725 362 743M362 743Q370 746 382 741M362 743Q358 754 350 771M350 771Q366 771 379 771M367 793Q371 805 382 812M367 793Q369 779 379 771M394 351Q414 353 427 353M394 351Q398 374 411 392M387 389Q401 389 411 392M387 389Q383 397 385 412M385 412Q398 409 413 409M385 412Q392 433 391 453M391 453Q396 441 406 439M392 505Q393 514 385 529M385 529Q394 531 406 527M385 529Q384 539 377 554M385 529Q395 541 408 560M377 554Q393 553 408 560M377 554Q376 575 378 597M377 554Q388 571 407 581M378 597Q389 587 407 581M378 597Q375 608 382 615M378 597Q395 574 408 560M382 615Q401 612 413 616M382 615Q383 640 378 660M382 615Q399 636 419 653M378 660Q391 673 395 686M395 686Q411 683 423 685M382 706Q403 710 422 720M382 706Q399 723 415 738M382 741Q397 741 415 738M382 741Q379 755 379 771M382 741Q402 756 428 764M379 771Q400 768 428 764M379 771Q381 789 382 812M379 771Q399 785 422 805M379 771Q399 752 415 738M382 812Q406 811 422 805M427 353Q417 368 411 392M411 392Q432 388 456 385M411 392Q414 398 413 409M413 409Q429 410 452 419M406 439Q418 438 439 443M406 439Q409 455 416 472M406 439Q425 461 447 479M406 439Q432 430 452 419M416 472Q429 475 447 479M416 472Q412 482 410 502M410 502Q427 509 454 509M410 502Q404 512 406 527M410 502Q433 518 449 541M406 527Q423 536 449 541M406 527Q410 547 408 560M406 527Q434 517 454 509M408 560Q410 574 407 581M407 581Q426 581 441 582M407 581Q414 595 413 616M407 581Q431 577 451 566M413 616Q426 622 439 619M413 616Q416 632 419 653M413 616Q424 637 438 659M419 653Q425 658 438 659M419 653Q418 666 423 685M423 685Q420 707 422 720M423 685Q437 699 450 716M422 720Q438 715 450 716M422 720Q419 729 415 738M415 738Q429 733 447 731M415 738Q417 749 428 764M428 764Q437 769 454 777M428 764Q423 781 422 805M428 764Q432 788 447 803M422 805Q437 809 447 803M437 359Q459 350 481 342M437 359Q447 367 456 385M456 385Q470 385 482 377M456 385Q451 399 452 419M456 385Q457 399 468 407M452 419Q457 414 468 407M452 419Q470 401 482 377M439 443Q459 436 482 436M447 479Q463 484 482 482M447 479Q446 495 454 509M454 509Q469 509 477 499M454 509Q451 521 449 541M449 541Q465 535 477 536M449 541Q455 549 451 566M449 541Q465 550 483 565M451 566Q470 569 483 565M451 566Q445 572 441 582M441 582Q459 582 480 583M441 582Q443 604 439 619M441 582Q453 599 469 617M439 619Q451 614 469 617M439 619Q438 644 438 659M448 685Q465 679 478 671M448 685Q450 705 450 716M450 716Q457 715 467 707M450 716Q445 725 447 731M450 716Q466 692 478 671M447 731Q463 739 481 746M447 731Q449 750 454 777M454 777Q463 776 481 767M454 777Q446 790 447 803M447 803Q459 803 477 801M447 803Q464 786 481 767M481 342Q492 339 506 344M481 342Q485 360 482 377M482 377Q495 381 516 375M482 377Q471 395 468 407M482 377Q499 361 506 344M468 407Q489 417 518 422M468 407Q472 420 482 436M468 407Q483 421 496 441M482 436Q488 442 496 441M482 436Q486 460 482 482M482 482Q501 481 514 482M482 482Q481 494 477 499M482 482Q493 492 506 497M477 499Q487 499 506 497M477 499Q477 521 477 536M477 499Q493 522 501 542M477 536Q488 542 501 542M477 536Q476 546 483 565M477 536Q492 547 501 564M483 565Q494 563 501 564M483 565Q485 574 480 583M480 583Q473 596 469 617M469 617Q473 635 482 648M482 648Q495 653 514 652M482 648Q484 661 478 671M482 648Q497 664 516 686M478 671Q492 676 516 686M478 671Q473 690 467 707M467 707Q485 712 501 721M467 707Q474 731 481 746M467 707Q483 721 507 732M481 746Q494 737 507 732M481 746Q481 761 481 767M481 746Q492 736 501 721M481 767Q480 786 477 801M477 801Q495 804 506 798M506 344Q520 348 529 349M506 344Q512 358 516 375M516 375Q520 381 533 389M516 375Q521 398 518 422M518 422Q520 416 526 418M518 422Q511 431 496 441M496 441Q517 433 544 434M496 441Q503 464 514 482M514 482Q534 480 546 477M514 482Q507 490 506 497M506 497Q525 501 546 497M506 497Q503 523 501 542M501 542Q514 533 534 530M501 542Q498 552 501 564M501 564Q497 580 499 593M499 593Q520 595 534 590M499 593Q504 600 517 614M517 614Q529 610 532 612M517 614Q518 635 514 652M514 652Q517 655 528 659M514 652Q516 668 516 686M516 686Q524 684 532 692M501 721Q517 716 531 707M501 721Q500 723 507 732M501 721Q522 724 537 735M507 732Q522 734 537 735M507 732Q503 753 496 772M496 772Q517 780 534 782M496 772Q499 787 506 798M506 798Q526 808 545 809M506 798Q515 790 534 782M529 349Q552 353 570 361M533 389Q551 382 577 383M533 389Q525 404 526 418M526 418Q532 422 544 434M544 434Q554 440 572 441M544 434Q550 455 546 477M546 477Q544 491 546 497M546 477Q557 480 562 492M546 497Q558 490 562 492M546 497Q539 518 534 530M534 530Q553 524 576 524M534 530Q538 544 548 564M548 564Q562 558 566 559M548 564Q538 581 534 590M534 590Q551 592 563 597M534 590Q533 605 532 612M534 590Q558 605 577 617M532 612Q559 611 577 617M528 659Q534 680 532 692M528 659Q549 643 577 617M532 692Q554 682 568 680M532 692Q528 696 531 707M532 692Q550 674 570 648M531 707Q549 710 560 705M531 707Q532 724 537 735M531 707Q550 691 568 680M537 735Q545 738 561 751M534 782Q550 770 567 766M534 782Q537 797 545 809M534 782Q557 797 576 813M534 782Q546 766 561 751M570 361Q588 356 596 344M570 361Q571 369 577 383M577 383Q579 378 590 373M577 383Q575 391 572 402M577 383Q587 395 594 403M572 402Q585 407 594 403M572 441Q581 444 591 437M572 441Q571 457 573 475M572 441Q590 456 599 481M573 475Q569 482 562 492M562 492Q586 499 602 500M562 492Q581 511 595 533M576 524Q584 533 595 533M576 524Q574 545 566 559M566 559Q566 580 563 597M563 597Q575 593 587 587M563 597Q568 608 577 617M577 617Q590 619 607 614M577 617Q576 632 570 648M570 648Q588 652 597 655M570 648Q570 667 568 680M570 648Q592 630 607 614M568 680Q590 682 605 676M568 680Q579 696 592 706M560 705Q572 703 592 706M560 705Q559 731 561 751M561 751Q577 751 595 741M561 751Q563 758 567 766M567 766Q589 771 607 780M567 766Q569 788 576 813M576 813Q588 803 605 791M576 813Q588 798 607 780M596 344Q605 348 617 357M596 344Q617 366 636 381M590 373Q612 380 636 381M590 373Q591 383 594 403M594 403Q609 401 629 401M594 403Q596 418 591 437M591 437Q600 461 599 481M599 481Q612 483 634 480M599 481Q601 490 602 500M602 500Q621 498 637 496M602 500Q602 515 595 533M595 533Q607 529 618 524M594 558Q606 564 627 566M594 558Q594 575 587 587M594 558Q613 573 637 597M587 587Q608 595 637 597M587 587Q593 602 607 614M607 614Q621 620 630 628M607 614Q607 637 597 655M607 614Q620 606 637 597M597 655Q616 652 626 653M597 655Q599 663 605 676M605 676Q610 677 617 688M605 676Q602 694 592 706M592 706Q602 714 621 721M592 706Q593 724 595 741M595 741Q605 761 607 780M595 741Q605 754 619 767M607 780Q611 771 619 767M607 780Q604 788 605 791M605 791Q622 798 630 806M617 357Q632 351 648 343M617 357Q630 365 636 381M636 381Q651 383 658 384M629 401Q640 401 655 406M629 401Q648 413 659 431M629 401Q639 395 658 384M625 451Q631 463 634 480M634 480Q639 477 653 471M634 480Q639 486 637 496M637 496Q653 497 667 505M618 524Q645 533 665 531M618 524Q618 544 627 566M627 566Q635 561 651 556M627 566Q631 583 637 597M627 566Q651 577 667 597M630 628Q644 620 653 611M630 628Q643 645 657 656M626 653Q637 651 657 656M626 653Q625 674 617 688M617 688Q637 687 655 677M617 688Q623 706 621 721M617 688Q637 704 661 721M621 721Q638 724 661 721M621 721Q621 730 630 738M621 721Q637 729 651 732M630 738Q636 735 651 732M630 738Q626 748 619 767M619 767Q638 765 653 770M619 767Q629 785 630 806M630 806Q642 797 661 795M648 343Q671 350 694 357M648 343Q653 360 658 384M658 384Q671 377 687 376M658 384Q653 391 655 406M655 406Q680 402 697 408M659 431Q679 431 694 436M659 431Q652 449 653 471M659 431Q669 455 681 478M653 471Q661 485 667 505M667 505Q670 506 682 512M667 505Q671 514 665 531M665 531Q661 544 651 556M665 531Q678 521 682 512M651 556Q662 556 681 560M651 556Q661 573 667 597M651 556Q666 538 687 525M667 597Q684 604 691 602M667 597Q660 604 653 611M653 611Q667 613 679 620M653 611Q658 637 657 656M653 611Q669 635 681 662M653 611Q676 608 691 602M657 656Q665 662 681 662M661 721Q660 725 651 732M651 732Q657 754 653 770M653 770Q670 776 692 783M653 770Q657 787 661 795M661 795Q682 800 696 798M697 408Q692 423 694 436M681 478Q683 498 682 512M682 512Q680 518 687 525M687 525Q680 546 681 560M681 560Q687 581 691 602M691 602Q682 609 679 620M681 662Q678 663 679 672M679 672Q680 690 677 710M677 710Q690 726 696 750M696 750Q689 770 692 783M692 783Q692 795 696 798" stroke="#e1e4e8" stroke-width="0.6"/>
<g stroke="#dde0e4" stroke-width="0.7">
<path d="M80.0 470.0 L120.0 465.0 L160.0 462.0 L200.0 455.0 L250.0 462.0 L290.0 470.0 L313.0 480.0"/>
<path d="M100.0 530.0 L140.0 520.0 L180.0 500.0 L215.0 485.0 L250.0 480.0 L290.0 478.0 L310.0 482.0"/>
<path d="M96.0 540.0 L130.0 545.0 L165.0 555.0 L200.0 560.0 L240.0 552.0 L280.0 545.0 L318.0 520.0 L320.0 492.0"/>
<path d="M150.0 420.0 L155.0 450.0 L150.0 480.0 L160.0 510.0 L150.0 540.0 L155.0 580.0 L170.0 620.0"/>
<path d="M215.0 485.0 L220.0 520.0 L235.0 560.0 L250.0 590.0 L265.0 605.0"/>
<path d="M320.0 492.0 L330.0 530.0 L345.0 570.0 L350.0 620.0 L348.0 680.0"/>
<path d="M320.0 492.0 L360.0 500.0 L400.0 500.0 L440.0 490.0 L480.0 480.0 L516.0 470.0"/>
<path d="M330.0 480.0 L360.0 460.0 L400.0 440.0 L430.0 425.0"/>
<path d="M350.0 620.0 L390.0 610.0 L430.0 590.0 L470.0 570.0 L492.0 562.0"/>
<path d="M348.0 680.0 L380.0 660.0 L410.0 640.0 L440.0 610.0 L470.0 590.0 L500.0 590.0"/>
<path d="M516.0 470.0 L510.0 510.0 L500.0 540.0 L492.0 562.0"/>
<path d="M516.0 470.0 L545.0 490.0 L578.0 520.0 L595.0 560.0"/>
<path d="M492.0 562.0 L530.0 565.0 L560.0 560.0 L595.0 564.0"/>
<path d="M500.0 594.0 L540.0 610.0 L570.0 615.0 L596.0 615.0"/>
<path d="M421.0 673.0 L450.0 670.0 L480.0 660.0 L510.0 640.0 L540.0 620.0"/>
<path d="M100.0 530.0 L96.0 560.0 L80.0 590.0 L60.0 610.0"/>
<path d="M200.0 560.0 L230.0 590.0 L270.0 600.0 L300.0 620.0 L330.0 650.0 L345.0 690.0"/>
<path d="M250.0 480.0 L245.0 520.0 L260.0 560.0 L300.0 580.0 L345.0 570.0"/>
<path d="M400.0 500.0 L410.0 540.0 L430.0 590.0"/>
<path d="M440.0 490.0 L450.0 520.0 L470.0 545.0 L492.0 562.0"/>
<path d="M360.0 420.0 L400.0 420.0 L440.0 430.0 L470.0 450.0 L516.0 470.0"/>
<path d="M545.0 490.0 L580.0 480.0 L620.0 475.0 L650.0 480.0"/>
<path d="M578.0 520.0 L610.0 520.0 L641.0 522.0"/>
</g>
<path d="M265.1 456.8l1.4 -1.2M602.6 528.8l-2.5 0.0M356.8 780.2l0.8 2.1M138.0 585.0l1.0 0.0M635.1 554.3l0.4 -1.0M258.7 404.7l-2.2 -0.8M361.3 521.3l2.1 -1.0M458.1 394.1l-1.1 -1.0M643.2 515.1l-1.0 -1.6M273.7 582.9l-1.1 -2.2M351.3 515.9l0.7 -0.1M565.1 651.1l-1.4 -0.5M511.9 738.9l-0.3 -2.1M57.3 499.6l1.6 1.9M601.0 423.1l-1.5 -0.9M64.6 527.9l-0.0 -1.9M213.4 684.5l-0.4 1.6M302.1 775.8l-1.3 -1.8M464.6 522.9l2.0 -0.5M473.7 479.4l0.9 1.5M559.4 697.7l-0.5 0.7M362.7 733.1l1.1 1.8M143.4 494.0l1.1 0.4M278.2 771.0l0.9 -0.2M231.5 761.2l0.4 1.2M313.3 407.9l-0.1 1.4M279.8 769.6l-0.1 1.0M612.1 552.5l1.0 -1.6M529.4 495.1l1.2 1.7M333.6 598.3l-1.0 -1.8M209.9 515.4l1.4 -0.8M218.1 628.6l-0.1 2.1M61.2 711.7l-1.2 -0.5M631.9 474.3l0.0 0.7M383.3 680.8l-0.6 -1.3M547.9 409.1l-0.7 1.8M649.2 630.1l-0.8 -2.0M285.5 759.8l-0.1 -1.3M284.3 702.8l-0.6 0.8M588.5 586.9l-1.9 -0.3M607.5 418.5l-0.4 0.6M297.4 574.4l1.2 -1.6M401.9 532.8l-1.0 -0.5M571.4 695.5l0.5 -0.8M461.4 681.0l-2.4 -0.0M605.7 676.3l0.8 -1.7M593.0 417.5l-0.6 -1.9M423.8 478.4l1.6 0.7M558.4 477.5l0.2 1.0M94.6 648.0l2.2 -0.4M263.4 657.9l2.0 1.0M241.5 363.5l-0.6 -0.6M209.7 387.0l-1.6 0.6M547.7 378.8l0.4 -0.7M177.5 628.3l-0.7 1.1M396.0 454.2l0.3 -1.0M568.0 704.1l-0.6 -0.2M529.1 374.0l-1.4 -0.0M75.0 628.5l-0.3 -1.7M289.1 578.6l-0.9 -0.6M586.0 783.2l0.8 -2.4M244.2 779.2l1.4 0.7M119.9 554.0l-0.8 -1.8M323.7 506.5l0.5 1.3M214.4 444.1l-0.1 -1.6M313.5 445.6l-0.3 -1.0M203.7 599.0l-0.8 -2.4M509.8 763.1l1.8 -1.0M491.9 388.5l0.2 0.6M583.4 667.4l-0.8 -0.8M260.7 431.2l-1.7 -1.9M229.1 380.7l0.6 1.2M605.9 702.3l-0.8 0.2M102.8 427.1l0.3 -1.5M664.0 747.7l0.4 -1.5M556.9 416.3l1.3 1.1M357.5 450.5l-0.0 0.6M612.1 662.4l2.4 -0.9M312.3 671.8l-1.7 1.5M569.3 418.6l1.0 0.1M406.7 522.3l2.3 0.1M534.1 558.2l2.3 0.6M374.2 392.0l-0.8 1.7M597.2 567.0l-0.6 -0.8M189.6 745.2l-0.6 0.5M410.4 415.4l0.5 1.4M406.8 631.2l-0.4 -1.4M77.9 668.5l1.5 0.5M289.1 646.6l-0.2 -1.1M447.5 654.7l-0.9 0.2M612.2 615.4l1.0 0.4M661.6 458.7l-1.7 1.4M558.1 630.1l-0.0 -0.7M94.6 774.9l0.2 -0.6M65.9 463.7l0.9 -0.4M461.6 755.5l-1.6 -1.9M202.0 426.9l2.1 0.2M100.9 773.6l-0.2 -0.9M547.5 430.9l-0.8 -0.1M534.7 738.3l0.5 -0.3M575.6 597.1l0.7 -1.4M428.6 613.5l0.2 -0.7M69.4 592.7l-0.4 1.3M39.8 677.1l2.2 0.3M550.3 555.7l1.4 1.3M166.5 543.5l2.0 1.6M381.8 511.1l1.7 1.1M574.6 720.8l1.1 0.8M227.2 684.5l1.1 1.5M656.4 687.2l0.7 0.0M107.2 654.9l-1.3 -1.0M324.3 534.3l-1.5 -1.2M616.9 671.9l0.7 -2.3M566.6 665.2l1.9 0.4M574.7 544.2l0.7 -0.7M633.6 548.9l-0.3 -1.1M225.8 509.4l-0.4 0.7M316.2 776.9l-1.4 -2.0M519.1 716.0l2.1 -0.1M209.1 467.6l-0.5 0.3M181.5 736.9l1.1 -0.6M524.2 689.8l1.7 -1.4M372.8 406.4l0.6 -1.1M433.1 517.3l-2.5 -0.6M137.3 586.6l-1.0 -1.4M630.6 534.4l1.7 -1.0M649.3 399.9l0.3 1.1M610.6 367.8l-0.1 2.0M663.5 436.6l-1.8 0.8M473.6 677.6l0.0 -1.1M198.3 373.7l-0.4 -0.9M199.8 769.9l-1.1 -1.4M451.6 614.9l-0.4 -1.1M75.6 390.3l1.3 0.1M125.3 409.7l-2.5 0.1M471.6 477.7l0.1 -0.9M98.6 490.2l-1.7 1.1M317.5 670.1l2.0 1.4M252.4 714.1l2.2 0.4M178.7 723.7l0.6 -1.8M211.3 366.1l0.9 2.2M135.4 640.9l-1.6 -1.0M149.7 422.8l2.1 1.5M278.2 637.9l-0.9 -0.4M76.1 368.3l0.5 -0.7M646.6 515.8l-0.2 -0.9M535.4 468.4l-1.1 1.2M105.8 467.0l0.3 -1.1M276.8 685.5l0.2 1.0M174.1 524.5l-1.2 1.4M334.6 729.9l1.8 0.6M566.1 461.3l1.5 0.3M108.6 556.6l-0.2 -0.8M109.8 564.8l0.5 0.9M314.6 412.0l1.2 0.5M332.9 758.2l-0.7 -0.2M176.2 676.8l-2.2 -0.9M646.2 724.9l1.9 1.6M368.3 463.4l1.1 2.0M169.9 397.1l-0.2 2.4M327.7 671.4l1.3 0.7M236.8 448.9l-0.7 -1.1M111.0 778.3l-1.0 0.1M41.9 638.2l-0.6 -0.1M333.6 675.2l-1.0 -0.2M351.9 617.9l-0.5 -0.7M545.3 762.0l-0.1 -2.3M268.5 743.9l0.4 1.0M414.7 743.4l0.9 0.5M57.8 547.7l0.6 0.8M510.6 608.7l1.3 -0.5M466.2 367.3l1.0 -0.3M337.9 578.4l1.5 -0.5M664.8 624.8l0.5 2.2M163.2 784.8l-1.0 0.3M645.4 498.1l-1.1 0.7M459.6 371.7l-0.6 0.7M560.8 362.1l-0.9 -0.7M323.4 599.7l-0.2 -0.8M187.7 413.0l0.9 -0.2M122.0 582.9l-2.1 -1.2M71.1 461.1l0.9 1.5M322.3 535.0l1.5 -1.2M581.2 766.8l-0.3 2.5M293.9 383.8l0.7 -0.4M46.1 484.5l-0.6 2.5M587.7 539.7l-2.3 -0.4M547.5 638.4l-0.8 -0.1M189.8 640.4l-1.9 -1.1M605.7 769.1l0.3 0.7M604.9 603.2l0.8 1.8M197.3 462.1l-1.1 1.2M465.1 393.1l-0.1 -1.8M334.5 646.3l0.2 -0.6M336.8 648.8l-0.5 -1.8M149.5 767.4l0.2 -1.0M308.5 767.2l0.4 1.4M645.6 742.7l0.2 2.1M263.4 642.6l0.1 -0.9M176.3 452.9l-0.1 0.7M121.4 533.8l-0.7 0.4M404.8 760.6l-1.2 -0.6M482.3 546.9l0.7 1.4M46.2 647.9l0.7 1.1M646.2 686.3l1.0 -1.6M438.0 660.2l1.0 -0.2M521.5 489.3l-0.1 2.2M416.7 721.4l1.3 -1.3M160.9 368.3l-2.0 -0.4M208.0 391.6l0.9 0.0M476.9 363.7l0.1 1.1M486.5 779.6l0.8 0.1M628.5 772.3l0.8 1.0M366.7 497.4l-1.4 0.8M199.2 385.3l0.8 0.5M93.0 626.0l-0.4 -1.1M537.8 670.3l-0.9 1.3M154.6 755.0l-0.7 -0.3M132.7 655.0l-1.5 1.3M180.7 699.2l0.3 -0.7M407.2 442.9l-0.6 -2.1M537.5 459.8l1.6 1.1M393.8 420.5l0.6 1.7M103.5 630.2l0.1 1.1M303.9 587.5l-0.1 -0.7M495.0 455.5l-0.5 1.8M473.9 622.0l0.8 -0.6M232.6 642.2l-0.1 0.9M178.7 688.3l0.9 -1.8M643.8 698.0l-0.4 1.1M493.0 385.5l-0.6 -0.5M66.2 579.3l1.4 2.0M592.1 557.3l0.3 0.8M356.8 582.5l-1.3 1.5M371.1 690.0l0.6 0.5M280.8 566.5l-0.0 1.9M175.9 496.6l-2.0 0.3M524.2 519.2l-2.3 0.8M628.0 623.7l1.2 0.9M439.4 479.8l2.5 0.6M612.6 416.5l-1.8 0.4M225.5 391.0l0.0 -2.1M312.7 398.3l-0.6 0.5M646.8 383.7l-0.5 2.1M120.8 407.1l0.8 0.4M372.7 714.4l0.5 0.8M520.8 542.1l-0.4 0.7M189.2 773.1l0.8 0.8M505.3 739.2l1.3 -0.9M642.3 617.5l-0.4 1.5M489.7 672.5l0.7 0.7M643.5 407.3l0.5 -1.2M192.4 469.9l-2.5 0.5M129.3 723.5l-0.4 0.9M507.9 506.5l0.6 1.3M556.8 727.1l-0.6 -0.3M519.8 618.6l2.0 -1.5M242.7 720.9l0.5 -1.0M267.3 520.5l-0.8 1.1M105.0 458.1l1.2 -0.8M438.7 737.3l0.0 -1.1M618.9 702.2l2.1 -0.1M514.3 705.9l-0.0 1.9M276.7 717.2l1.1 1.2M248.6 709.1l-1.3 1.9M573.4 733.8l1.6 1.9M507.6 648.3l-0.4 -0.6M587.5 593.7l-1.2 0.4M532.1 692.9l0.7 -0.8M251.2 467.5l1.0 0.7M51.5 698.9l0.1 0.7M78.0 675.5l0.5 1.4M290.2 701.4l1.2 -0.4M436.5 740.5l-2.4 0.4M500.9 493.8l1.2 -1.2M102.2 610.5l0.8 -1.4M342.4 538.1l1.4 -1.3M167.0 515.3l-1.6 1.9M476.9 414.8l0.6 -0.3M410.2 544.9l-0.3 -1.4M93.6 583.5l0.9 -2.0M261.4 456.0l-0.1 -2.2M174.1 735.6l1.5 -0.1M276.7 662.3l0.9 -0.4M226.6 501.2l-0.1 -1.0M382.3 573.6l-0.4 -0.8M642.5 785.0l-2.0 -0.8M151.4 747.0l-2.0 -0.7M586.5 515.0l0.9 -0.5M49.9 574.5l1.9 -1.4M641.4 578.1l1.6 -0.7M126.2 628.9l0.5 -1.4M417.3 471.6l-0.2 1.4M360.9 560.1l0.5 0.3M251.0 665.3l-0.0 -1.1M197.3 580.6l0.8 1.6M609.1 447.4l-1.8 -1.0M510.8 663.2l-0.3 -1.1M567.4 753.3l2.4 0.8M316.1 398.5l2.0 0.9" stroke="#c3dbf0" stroke-width="0.8" stroke-linecap="round"/>
</g>
<g clip-path="url(#ua)">
<path d="M313.0 406.0 L312.0 420.0 L313.0 436.0" fill="none" stroke="#b9d6ee" stroke-width="1.1"/>
<path d="M316.0 470.0 L318.0 480.0 L322.0 490.0 L330.0 495.0 L340.0 499.0 L352.0 500.0" fill="none" stroke="#a9cbe6" stroke-width="2.2" stroke-linejoin="round"/>
<path d="M355.0 511.0 L362.0 515.0 L370.0 518.0" fill="none" stroke="#a9cbe6" stroke-width="2.2" stroke-linejoin="round"/>
<path d="M421.0 540.0 L431.0 541.0" fill="none" stroke="#a9cbe6" stroke-width="2.2" stroke-linejoin="round"/>
<path d="M470.0 558.0 L480.0 560.0 L491.0 562.0 L495.0 568.0 L497.0 575.0 L499.0 582.0 L500.0 590.0 L501.0 595.0" fill="none" stroke="#a9cbe6" stroke-width="2.2" stroke-linejoin="round"/>
<path d="M450.0 660.0 L445.0 664.0 L438.0 667.0 L430.0 670.0 L421.0 673.0 L415.0 677.0" fill="none" stroke="#a9cbe6" stroke-width="2.2" stroke-linejoin="round"/>
<path d="M318.0 470.0 L325.0 455.0 L335.0 440.0 L345.0 430.0 L360.0 420.0 L375.0 410.0" fill="none" stroke="#b9d6ee" stroke-width="1.1"/>
<path d="M313.0 436.0 L300.0 432.0 L280.0 430.0 L260.0 430.0" fill="none" stroke="#b9d6ee" stroke-width="1.1"/>
<path d="M385.0 679.0 L380.0 668.0 L372.0 655.0 L365.0 640.0 L355.0 630.0 L340.0 620.0" fill="none" stroke="#b9d6ee" stroke-width="1.1"/>
<path d="M330.0 698.0 L320.0 690.0 L310.0 675.0 L300.0 660.0 L292.0 645.0" fill="none" stroke="#b9d6ee" stroke-width="1.1"/>
<path d="M565.0 500.0 L575.0 505.0 L590.0 512.0 L605.0 518.0" fill="none" stroke="#b9d6ee" stroke-width="1.1"/>
<path d="M491.0 562.0 L505.0 560.0 L520.0 556.0 L535.0 555.0" fill="none" stroke="#b9d6ee" stroke-width="1.1"/>
<path d="M303.3 435.8 L307.0 436.0 L310.0 439.0 L313.3 438.3 L315.0 445.0 L315.8 451.7 L316.7 461.7 L318.3 469.0 L316.0 471.0 L314.0 469.0 L312.5 461.7 L310.8 451.7 L306.7 443.3 Z" fill="#a9cbe6"/>
<path d="M352.0 498.0 L356.0 499.0 L358.0 505.0 L357.0 511.0 L354.0 512.0 L352.0 506.0 Z" fill="#a9cbe6"/>
<path d="M370.0 517.0 L377.0 520.0 L383.0 522.0 L392.0 525.0 L398.0 528.0 L397.0 521.0 L399.0 516.0 L402.0 523.0 L406.0 528.0 L412.0 531.0 L418.0 535.0 L421.0 538.0 L422.0 542.0 L418.0 544.0 L410.0 541.0 L405.0 540.0 L398.0 537.0 L390.0 534.0 L380.0 529.0 L374.0 524.0 Z" fill="#a9cbe6"/>
<path d="M431.0 539.0 L437.0 541.0 L445.0 544.0 L452.0 547.0 L454.0 543.0 L457.0 549.0 L463.0 553.0 L470.0 557.0 L471.0 560.0 L466.0 559.0 L458.0 555.0 L450.0 551.0 L441.0 547.0 L433.0 543.0 Z" fill="#a9cbe6"/>
<path d="M461.0 616.5 L463.9 614.1 L470.8 612.6 L475.7 610.2 L482.5 608.7 L490.4 608.7 L497.3 604.8 L500.2 598.9 L501.2 595.0 L502.2 595.0 L506.1 599.9 L510.0 603.8 L511.0 607.7 L509.0 610.7 L502.2 616.5 L497.3 617.5 L486.5 613.6 L477.6 616.5 L467.8 623.4 L465.5 624.0 L464.5 633.0 L460.5 643.5 L457.5 651.5 L452.5 658.5 L449.5 662.0 L447.5 660.0 L450.5 655.5 L453.5 649.5 L456.5 641.5 L460.0 632.0 L461.0 623.0 Z" fill="#a9cbe6"/>
<path d="M515.9 665.3 L518.8 667.6 L519.4 671.2 L515.9 675.3 L512.4 680.0 L509.4 681.2 L515.3 673.0 L517.6 669.4 Z" fill="#a9cbe6"/>
<path d="M518.2 654.0 L521.2 655.9 L522.4 660.6 L525.3 664.7 L524.0 667.6 L521.2 663.5 L519.4 657.6 Z" fill="#a9cbe6"/>
<path d="M186.0 443.0 L190.0 438.0 L193.0 430.0 L192.0 424.0 L196.0 421.0 L198.0 427.0 L197.0 434.0 L200.0 437.0 L196.0 441.0 L191.0 446.0 L187.0 447.0 Z" fill="#a9cbe6"/>
<path d="M137.0 416.0 L145.0 414.0 L151.0 416.0 L146.0 418.0 L140.0 420.0 Z" fill="#a9cbe6"/>
<path d="M80.0 438.0 L84.0 437.0 L88.0 441.0 L85.0 444.0 L82.0 442.0 Z" fill="#a9cbe6"/>
<path d="M330.0 698.0 L335.0 699.0 L340.0 706.0 L343.0 712.0 L340.0 713.0 L336.0 707.0 L331.0 702.0 Z" fill="#a9cbe6"/>
<path d="M462.6 689.8 L466.3 687.0 L473.8 690.7 L479.4 684.2 L484.0 683.3 L486.8 687.9 L492.4 686.1 L496.1 687.0 L500.8 685.1 L505.4 687.9 L507.3 691.7 L509.2 699.1 L508.2 703.8 L504.5 701.0 L496.1 699.1 L492.4 697.3 L486.8 695.4 L483.1 690.7 L477.5 692.6 L471.9 690.7 L468.2 691.7 L464.5 695.4 L462.6 701.0 L458.0 703.8 L456.1 701.0 L458.9 695.4 Z" fill="#a9cbe6"/>
</g>
</g>
</defs></svg>
<svg class="map" style="left:27px;top:349px" width="656" height="446" viewBox="27 349 656 446">
<use href="#base"/>
<g clip-path="url(#ua)">
<g opacity="0.7">
<path d="M241.0 415.0 L301.0 415.0 L300.0 427.0 L298.0 436.0 L290.0 437.0 L291.0 450.0 L277.0 453.0 L263.0 453.0 L250.0 452.0 L243.0 443.0 L241.0 428.0 Z" fill="#ee9c81"/>
<path d="M311.0 437.0 L313.0 437.0 L318.0 432.0 L328.0 423.0 L337.0 412.0 L342.0 403.0 L352.0 395.0 L360.0 391.0 L377.0 389.0 L382.0 383.0 L391.0 373.0 L392.0 366.0 L392.0 355.0 L310.0 355.0 Z" fill="#ee9c81"/>
<path d="M424.0 374.0 L418.0 386.0 L415.0 393.0 L420.0 405.0 L430.0 417.0 L438.0 422.0 L453.0 427.0 L460.0 430.0 L470.0 422.0 L480.0 410.0 L440.0 370.0 Z" fill="#ee9c81"/>
<path d="M505.0 445.0 L508.0 458.0 L512.0 467.5 L520.0 468.0 L533.0 463.0 L548.0 455.0 L556.0 447.0 L552.0 436.0 Z" fill="#ee9c81"/>
<path d="M650.0 455.0 L648.0 463.0 L645.0 472.0 L642.0 488.0 L643.0 500.0 L648.0 512.0 L650.0 522.0 L675.0 522.0 L675.0 455.0 Z" fill="#ee9c81"/>
<path d="M421.0 673.0 L427.0 663.0 L435.0 655.0 L447.0 650.0 L468.0 653.0 L493.0 658.0 L505.0 663.0 L515.0 673.0 L520.0 680.0 L520.0 710.0 L455.0 715.0 L440.0 701.0 L430.0 699.0 L423.0 690.0 L418.0 682.0 Z" fill="#ee9c81"/>
</g><g opacity="0.78">
</g>
<path d="M604.0 529.3 L606.0 524.7 L613.0 522.0 L619.5 520.0 L627.8 520.5 L636.0 517.0 L644.0 518.0 L651.0 518.5 L655.0 517.0 L700.0 517.0 L700.0 620.0 L606.0 620.0 L605.0 613.0 L604.0 607.5 L602.5 600.3 L597.0 593.0 L591.7 587.0 L588.0 579.7 L586.6 573.6 L585.0 570.5 L588.0 565.3 L589.2 561.2 L591.7 556.0 L591.2 552.0 L594.8 547.8 L595.8 543.7 L600.0 541.6 L603.6 538.6 L606.7 534.4 Z" fill="url(#hatch)"/>
<path d="M467.0 705.0 L463.5 704.7 L463.5 690.7 L468.2 688.9 L473.8 691.7 L480.3 690.7 L486.8 695.4 L496.1 697.3 L505.4 701.0 L508.2 703.8 L512.0 702.0 L520.0 692.0 L600.0 700.0 L600.0 800.0 L400.0 800.0 L400.0 730.0 Z" fill="url(#hatch)"/>
<path d="M520.4 715.9 L523.1 721.5 L519.4 726.1 L524.1 727.1 L537.0 729.0 L533.4 725.2 L524.1 715.9 Z" fill="#b4c2d6"/>
</g>
<path d="M307.5 478.0 L310.0 473.0 L315.0 471.7 L318.0 475.0 L323.0 470.8 L327.5 472.5 L326.7 478.0 L329.0 481.0 L325.0 486.7 L322.5 492.5 L318.0 486.7 L313.0 481.7 L307.5 480.8 Z" fill="#e4e4e4" stroke="#777" stroke-width="0.9"/>
<circle cx="516.7" cy="470.5" r="2.9" fill="#000"/>
<circle cx="641.7" cy="522.0" r="2.9" fill="#000"/>
<circle cx="595.0" cy="564.5" r="2.9" fill="#000"/>
<circle cx="420.8" cy="673.2" r="2.9" fill="#000"/>
<text transform="translate(153.12,394.70) scale(0.8756,1)" font-size="21.78" font-weight="400" fill="#9b9b9b" >BIELORRUSIA</text>
<text transform="translate(300.73,512.50) scale(0.9661,1)" font-size="19.70" font-weight="700" fill="#000" >KIEV</text>
<text transform="translate(488.00,496.70) scale(1.0836,1)" font-size="19.70" font-weight="400" fill="#111" >Járkov</text>
<text transform="translate(550.65,526.70) scale(1.0504,1)" font-size="19.70" font-weight="400" fill="#111" >Lugansk</text>
<text transform="translate(572.92,585.80) scale(1.0787,1)" font-size="19.70" font-weight="400" fill="#111" >Donetsk</text>
<text transform="translate(374.00,665.00) scale(1.0784,1)" font-size="19.70" font-weight="400" fill="#111" >Jersón</text>
<text transform="translate(448.98,736.70) scale(1.0241,1)" font-size="19.70" font-weight="400" fill="#333" >Crimea</text>
<text transform="translate(527.50,376.70) scale(1.0363,1)" font-size="19.70" font-weight="400" fill="#444" >Zona controlada</text>
<text transform="translate(502.49,399.00) scale(1.0096,1)" font-size="19.70" font-weight="400" fill="#444" >por los separatistas</text>
<text transform="translate(578.50,421.70) scale(1.0013,1)" font-size="19.70" font-weight="400" fill="#444" >antes de la</text>
<text transform="translate(558.50,444.00) scale(0.9945,1)" font-size="19.70" font-weight="400" fill="#444" >ofensiva rusa</text>
<path d="M653.7 452.5 V548" stroke="#222" stroke-width="1"/>
<text transform="translate(529.00,763.30) scale(0.9887,1)" font-size="19.70" font-weight="400" fill="#444" >Anexionado por</text>
<text transform="translate(528.06,786.70) scale(0.9364,1)" font-size="19.70" font-weight="400" fill="#444" >Rusia en 2014</text>
<path d="M513.3 747.5 L523.3 757.5" stroke="#222" stroke-width="1"/>
<text transform="translate(363.89,745.00) scale(1.1118,1)" font-size="17.78" font-weight="700" fill="#7ba9d1"  letter-spacing="2.2">Mar</text>
<text transform="translate(348.87,769.00) scale(1.1303,1)" font-size="17.78" font-weight="700" fill="#7ba9d1"  letter-spacing="2.2">Negro</text>
<text transform="translate(550.59,670.80) scale(1.1146,1)" font-size="17.78" font-weight="700" fill="#7ba9d1"  letter-spacing="2.2">Mar</text>
<text transform="translate(527.50,693.00) scale(1.0622,1)" font-size="17.78" font-weight="700" fill="#7ba9d1"  letter-spacing="2.2">de Azov</text>
<g transform="translate(669,722.5) rotate(-90)"><text transform="translate(-0.97,0.00) scale(0.9744,1)" font-size="19.70" font-weight="700" fill="#000" >RUSIA</text></g>
<g transform="translate(228,608) rotate(51)"><text transform="translate(-1.03,13.00) scale(1.0284,1)" font-size="19.70" font-weight="400" fill="#9b9b9b" >MOLDAVIA</text></g>
<text transform="translate(41.88,773.00) scale(1.1217,1)" font-size="15.56" font-weight="400" fill="#555" >100 km</text>
<path d="M46 777 V781 H96 V777" fill="none" stroke="#555" stroke-width="1"/>
</svg>
<svg class="map" style="left:694px;top:349px" width="656" height="446" viewBox="27 349 656 446">
<use href="#base"/>
<g clip-path="url(#ua)">
<g opacity="0.7">
<path d="M235.0 437.5 L242.0 420.0 L315.0 420.0 L312.0 436.0 L310.0 445.0 L312.0 462.0 L310.0 473.0 L303.0 483.0 L297.0 478.0 L290.0 472.0 L280.0 453.0 L273.0 443.0 L267.0 435.0 L253.0 441.0 Z" fill="#ee9c81"/>
<path d="M313.0 436.0 L315.0 423.0 L337.0 413.0 L360.0 412.5 L378.0 425.0 L360.0 437.0 L345.0 442.0 L337.0 446.0 L334.0 455.0 L338.0 462.0 L333.0 470.0 L340.0 475.0 L352.0 480.0 L360.0 470.0 L377.0 463.0 L393.0 457.0 L417.0 447.0 L415.0 438.0 L418.0 430.0 L432.0 424.0 L447.0 425.0 L458.0 432.0 L465.0 438.0 L467.0 452.0 L468.0 462.0 L480.0 464.0 L493.0 465.0 L515.0 469.0 L527.0 468.0 L533.0 475.0 L537.0 487.0 L548.0 495.0 L562.0 503.0 L572.0 487.0 L568.0 469.0 L587.0 469.0 L587.5 495.0 L593.0 503.0 L610.0 512.0 L617.0 518.0 L625.0 524.0 L690.0 524.0 L690.0 350.0 L305.0 350.0 L310.0 417.0 Z" fill="#ee9c81"/>
<path d="M406.7 653.0 L423.0 646.7 L433.0 638.0 L430.0 626.7 L433.0 620.8 L446.7 618.0 L462.0 623.4 L467.8 623.4 L477.6 616.5 L486.5 613.6 L497.3 617.5 L502.2 616.5 L511.0 610.7 L526.7 603.0 L541.7 600.0 L545.0 595.0 L546.7 616.7 L575.0 603.0 L585.0 606.7 L581.7 595.0 L590.0 588.0 L593.0 580.0 L620.0 580.0 L640.0 640.0 L560.0 720.0 L440.0 720.0 L375.0 700.0 L375.0 685.0 L395.0 680.0 L400.0 673.0 L397.0 668.0 Z" fill="#ee9c81"/>
</g><g opacity="0.78">
<path d="M290.0 473.0 L297.0 477.0 L294.0 486.0 L285.0 482.0 Z" fill="#fcdf7c"/>
<path d="M497.0 452.0 L501.0 450.0 L515.0 469.0 Z" fill="#fcdf7c"/>
<path d="M395.0 667.0 L400.0 660.0 L408.0 662.0 L407.0 672.0 L400.0 673.0 Z" fill="#fcdf7c"/>
</g>
<path d="M604.0 529.3 L606.0 524.7 L613.0 522.0 L619.5 520.0 L627.8 520.5 L636.0 517.0 L644.0 518.0 L651.0 518.5 L655.0 517.0 L700.0 517.0 L700.0 620.0 L606.0 620.0 L605.0 613.0 L604.0 607.5 L602.5 600.3 L597.0 593.0 L591.7 587.0 L588.0 579.7 L586.6 573.6 L585.0 570.5 L588.0 565.3 L589.2 561.2 L591.7 556.0 L591.2 552.0 L594.8 547.8 L595.8 543.7 L600.0 541.6 L603.6 538.6 L606.7 534.4 Z" fill="url(#hatch)"/>
<path d="M467.0 705.0 L463.5 704.7 L463.5 690.7 L468.2 688.9 L473.8 691.7 L480.3 690.7 L486.8 695.4 L496.1 697.3 L505.4 701.0 L508.2 703.8 L512.0 702.0 L520.0 692.0 L600.0 700.0 L600.0 800.0 L400.0 800.0 L400.0 730.0 Z" fill="url(#hatch)"/>
<path d="M520.4 715.9 L523.1 721.5 L519.4 726.1 L524.1 727.1 L537.0 729.0 L533.4 725.2 L524.1 715.9 Z" fill="#b4c2d6"/>
</g>
<path d="M307.5 478.0 L310.0 473.0 L315.0 471.7 L318.0 475.0 L323.0 470.8 L327.5 472.5 L326.7 478.0 L329.0 481.0 L325.0 486.7 L322.5 492.5 L318.0 486.7 L313.0 481.7 L307.5 480.8 Z" fill="#e4e4e4" stroke="#777" stroke-width="0.9"/>
<circle cx="516.7" cy="470.5" r="2.9" fill="#000"/>
<circle cx="641.7" cy="522.0" r="2.9" fill="#000"/>
<circle cx="595.0" cy="564.5" r="2.9" fill="#000"/>
<circle cx="420.8" cy="673.2" r="2.9" fill="#000"/>
<circle cx="307.0" cy="476.3" r="2.9" fill="#000"/>
<text transform="translate(258.94,467.50) scale(1.0570,1)" font-size="19.70" font-weight="400" fill="#111" >Bucha</text>
<text transform="translate(264.64,494.00) scale(1.1610,1)" font-size="19.70" font-weight="400" fill="#111" >Irpin</text>
<text transform="translate(327.00,503.00) scale(1.0040,1)" font-size="19.70" font-weight="700" fill="#000" >KIEV</text>
<text transform="translate(485.80,496.70) scale(1.0870,1)" font-size="19.70" font-weight="400" fill="#111" >Járkov</text>
</svg>
<svg class="map" style="left:1361px;top:349px" width="656" height="446" viewBox="27 349 656 446">
<use href="#base"/>
<g clip-path="url(#ua)">
<g opacity="0.7">
<path d="M498.0 450.0 L515.0 467.0 L527.0 468.0 L535.0 473.0 L537.0 487.0 L548.0 495.0 L562.0 503.0 L572.0 487.0 L570.0 477.0 L577.0 478.0 L587.0 493.0 L593.0 503.0 L610.0 512.0 L617.0 517.0 L625.0 524.0 L690.0 524.0 L690.0 430.0 L498.0 430.0 Z" fill="#ee9c81"/>
<path d="M406.7 651.7 L426.7 645.0 L433.0 636.7 L430.0 623.0 L433.0 620.0 L446.7 618.0 L462.0 623.4 L467.8 623.4 L477.6 616.5 L486.5 613.6 L497.3 617.5 L502.2 616.5 L511.0 610.7 L526.7 603.0 L543.0 598.0 L546.7 616.7 L575.0 603.0 L585.0 608.0 L581.7 595.0 L590.0 588.0 L593.0 580.0 L620.0 580.0 L640.0 640.0 L560.0 720.0 L440.0 720.0 L375.0 700.0 L375.0 685.0 L395.0 680.0 L400.0 673.0 L397.0 668.0 Z" fill="#ee9c81"/>
</g><g opacity="0.78">
<path d="M235.0 437.5 L240.0 420.0 L312.0 420.0 L311.7 435.8 L308.0 448.0 L310.0 465.0 L305.0 476.7 L298.0 485.0 L285.0 483.0 L291.7 461.7 L280.0 455.0 L275.0 441.7 L263.0 445.0 L253.0 440.0 Z" fill="#fcdf7c"/>
<path d="M311.7 421.7 L308.0 415.0 L316.0 380.0 L395.0 360.0 L393.0 378.0 L400.0 384.0 L383.0 393.0 L373.0 398.0 L356.7 396.7 L343.0 396.7 L340.0 411.7 L330.0 418.0 Z" fill="#fcdf7c"/>
<path d="M328.0 423.0 L340.0 425.0 L340.0 430.0 L331.7 428.0 Z" fill="#fcdf7c"/>
<path d="M328.0 470.0 L336.7 460.0 L350.0 453.0 L363.0 448.0 L370.0 455.0 L370.0 463.0 L355.0 470.0 L353.0 481.7 L345.0 481.7 L346.7 473.0 L333.0 473.0 Z" fill="#fcdf7c"/>
<path d="M430.0 383.0 L445.0 383.0 L445.0 410.0 L478.0 410.0 L480.0 433.0 L456.7 425.0 L440.0 423.0 L420.0 430.0 L413.0 440.0 L405.0 441.7 L406.7 435.0 L413.0 425.0 L413.0 406.7 L421.7 393.0 Z" fill="#fcdf7c"/>
<path d="M466.7 445.0 L469.0 445.0 L470.0 460.0 L468.0 460.0 Z" fill="#fcdf7c"/>
<path d="M476.0 433.0 L478.0 433.0 L484.0 443.0 L482.0 444.0 Z" fill="#fcdf7c"/>
<path d="M496.0 451.0 L499.0 450.0 L517.0 468.0 L514.0 468.0 Z" fill="#fcdf7c"/>
<path d="M395.0 666.0 L400.0 658.0 L407.0 660.0 L407.0 672.0 L400.0 673.0 Z" fill="#fcdf7c"/>
<path d="M430.0 620.0 L434.0 618.0 L436.0 622.0 L432.0 624.0 Z" fill="#fcdf7c"/>
<path d="M445.0 617.0 L450.0 616.0 L451.0 620.0 L446.0 621.0 Z" fill="#fcdf7c"/>
</g>
<path d="M604.0 529.3 L606.0 524.7 L613.0 522.0 L619.5 520.0 L627.8 520.5 L636.0 517.0 L644.0 518.0 L651.0 518.5 L655.0 517.0 L700.0 517.0 L700.0 620.0 L606.0 620.0 L605.0 613.0 L604.0 607.5 L602.5 600.3 L597.0 593.0 L591.7 587.0 L588.0 579.7 L586.6 573.6 L585.0 570.5 L588.0 565.3 L589.2 561.2 L591.7 556.0 L591.2 552.0 L594.8 547.8 L595.8 543.7 L600.0 541.6 L603.6 538.6 L606.7 534.4 Z" fill="url(#hatch)"/>
<path d="M467.0 705.0 L463.5 704.7 L463.5 690.7 L468.2 688.9 L473.8 691.7 L480.3 690.7 L486.8 695.4 L496.1 697.3 L505.4 701.0 L508.2 703.8 L512.0 702.0 L520.0 692.0 L600.0 700.0 L600.0 800.0 L400.0 800.0 L400.0 730.0 Z" fill="url(#hatch)"/>
<path d="M520.4 715.9 L523.1 721.5 L519.4 726.1 L524.1 727.1 L537.0 729.0 L533.4 725.2 L524.1 715.9 Z" fill="#b4c2d6"/>
</g>
<path d="M307.5 478.0 L310.0 473.0 L315.0 471.7 L318.0 475.0 L323.0 470.8 L327.5 472.5 L326.7 478.0 L329.0 481.0 L325.0 486.7 L322.5 492.5 L318.0 486.7 L313.0 481.7 L307.5 480.8 Z" fill="#e4e4e4" stroke="#777" stroke-width="0.9"/>
<circle cx="516.7" cy="470.5" r="2.9" fill="#000"/>
<circle cx="641.7" cy="522.0" r="2.9" fill="#000"/>
<circle cx="595.0" cy="564.5" r="2.9" fill="#000"/>
<circle cx="420.8" cy="673.2" r="2.9" fill="#000"/>
<circle cx="307.0" cy="476.3" r="2.9" fill="#000"/>
<circle cx="578.0" cy="521.5" r="2.9" fill="#000"/>
<circle cx="578.3" cy="527.7" r="2.9" fill="#000"/>
<circle cx="501.7" cy="593.5" r="2.9" fill="#000"/>
<text transform="translate(299.81,512.50) scale(0.9862,1)" font-size="19.70" font-weight="700" fill="#000" >KIEV</text>
<text transform="translate(533.00,514.00) scale(1.0662,1)" font-size="19.70" font-weight="400" fill="#111" >Sloviansk</text>
<text transform="translate(478.90,550.80) scale(1.1022,1)" font-size="19.70" font-weight="400" fill="#111" >Kramatorsk</text>
<text transform="translate(461.70,586.70) scale(1.0898,1)" font-size="19.70" font-weight="400" fill="#111" >Zaporiyia</text>
<text transform="translate(415.00,667.50) scale(1.0750,1)" font-size="19.70" font-weight="400" fill="#111" >Jersón</text>
</svg>
<svg class="map" style="left:27px;top:1135px" width="656" height="446" viewBox="27 349 656 446">
<use href="#base"/>
<g clip-path="url(#ua)">
<g opacity="0.7">
<path d="M507.0 448.0 L513.0 455.0 L520.0 458.0 L533.0 458.0 L537.0 467.0 L545.0 475.0 L540.0 483.0 L545.0 500.0 L560.0 500.0 L560.0 515.0 L577.0 513.0 L597.0 515.0 L602.0 520.0 L600.0 533.0 L605.0 538.0 L690.0 538.0 L690.0 430.0 L507.0 430.0 Z" fill="#ee9c81"/>
<path d="M605.0 538.0 L597.0 545.0 L592.0 555.0 L590.0 565.0 L585.0 572.0 L588.0 578.0 L620.0 578.0 L620.0 538.0 Z" fill="#ee9c81"/>
<path d="M404.0 677.0 L402.2 675.4 L404.1 668.5 L412.9 664.6 L409.0 657.7 L411.0 652.8 L418.8 649.9 L422.7 646.9 L428.6 642.0 L434.5 640.1 L438.4 635.2 L442.4 626.4 L447.3 622.4 L452.2 625.4 L462.0 623.4 L467.8 623.4 L477.6 616.5 L486.5 613.6 L497.3 617.5 L502.2 616.5 L511.0 610.7 L520.8 613.6 L531.6 605.8 L542.4 603.8 L543.3 596.9 L545.0 593.0 L555.0 590.0 L555.0 583.0 L570.0 583.0 L588.0 578.0 L620.0 578.0 L640.0 640.0 L560.0 720.0 L440.0 720.0 L375.0 700.0 L375.0 685.0 L395.0 682.0 L403.0 679.0 Z" fill="#ee9c81"/>
</g><g opacity="0.78">
<path d="M498.0 452.0 L507.0 448.0 L513.0 455.0 L520.0 458.0 L533.0 458.0 L537.0 467.0 L545.0 475.0 L540.0 483.0 L545.0 500.0 L543.0 500.0 L540.0 487.0 L535.0 475.0 L527.0 467.0 L515.0 467.0 Z" fill="#fcdf7c"/>
<path d="M430.6 638.1 L429.6 628.3 L431.6 620.5 L444.3 617.5 L448.2 616.5 L450.2 620.5 L461.0 618.5 L462.5 622.4 L462.0 623.4 L452.2 625.4 L447.3 622.4 L442.4 626.4 L438.4 635.2 L434.5 640.1 L428.6 642.0 Z" fill="#fcdf7c"/>
<path d="M395.3 664.6 L399.2 659.7 L407.0 656.7 L408.0 651.8 L414.9 648.9 L419.8 647.9 L422.7 646.9 L418.8 649.9 L411.0 652.8 L409.0 657.7 L412.9 664.6 L404.1 668.5 L402.2 675.4 L398.2 675.4 L394.3 670.5 Z" fill="#fcdf7c"/>
<path d="M545.0 593.0 L555.0 589.0 L555.0 592.0 L546.0 596.0 Z" fill="#fcdf7c"/>
<path d="M570.0 583.0 L588.0 577.0 L588.0 580.0 L571.0 585.0 Z" fill="#fcdf7c"/>
</g>
<path d="M604.0 529.3 L606.0 524.7 L613.0 522.0 L619.5 520.0 L627.8 520.5 L636.0 517.0 L644.0 518.0 L651.0 518.5 L655.0 517.0 L700.0 517.0 L700.0 620.0 L606.0 620.0 L605.0 613.0 L604.0 607.5 L602.5 600.3 L597.0 593.0 L591.7 587.0 L588.0 579.7 L586.6 573.6 L585.0 570.5 L588.0 565.3 L589.2 561.2 L591.7 556.0 L591.2 552.0 L594.8 547.8 L595.8 543.7 L600.0 541.6 L603.6 538.6 L606.7 534.4 Z" fill="url(#hatch)"/>
<path d="M467.0 705.0 L463.5 704.7 L463.5 690.7 L468.2 688.9 L473.8 691.7 L480.3 690.7 L486.8 695.4 L496.1 697.3 L505.4 701.0 L508.2 703.8 L512.0 702.0 L520.0 692.0 L600.0 700.0 L600.0 800.0 L400.0 800.0 L400.0 730.0 Z" fill="url(#hatch)"/>
<path d="M520.4 715.9 L523.1 721.5 L519.4 726.1 L524.1 727.1 L537.0 729.0 L533.4 725.2 L524.1 715.9 Z" fill="#b4c2d6"/>
</g>
<path d="M307.5 478.0 L310.0 473.0 L315.0 471.7 L318.0 475.0 L323.0 470.8 L327.5 472.5 L326.7 478.0 L329.0 481.0 L325.0 486.7 L322.5 492.5 L318.0 486.7 L313.0 481.7 L307.5 480.8 Z" fill="#e4e4e4" stroke="#777" stroke-width="0.9"/>
<circle cx="516.7" cy="470.5" r="2.9" fill="#000"/>
<circle cx="641.7" cy="522.0" r="2.9" fill="#000"/>
<circle cx="595.0" cy="564.5" r="2.9" fill="#000"/>
<circle cx="420.8" cy="673.2" r="2.9" fill="#000"/>
<circle cx="307.0" cy="476.3" r="2.9" fill="#000"/>
<circle cx="578.0" cy="521.5" r="2.9" fill="#000"/>
<circle cx="578.3" cy="527.7" r="2.9" fill="#000"/>
<circle cx="501.7" cy="593.5" r="2.9" fill="#000"/>
<circle cx="608.0" cy="508.7" r="2.9" fill="#000"/>
<circle cx="606.0" cy="511.2" r="2.9" fill="#000"/>
<circle cx="596.7" cy="615.5" r="2.9" fill="#000"/>
<text transform="translate(299.81,512.50) scale(0.9862,1)" font-size="19.70" font-weight="700" fill="#000" >KIEV</text>
<text transform="translate(520.00,497.50) scale(1.0708,1)" font-size="19.70" font-weight="400" fill="#111" >Severodonetsk</text>
<text transform="translate(458.92,518.00) scale(1.0760,1)" font-size="19.70" font-weight="400" fill="#111" >Lisichansk</text>
<path d="M559 511 H605" stroke="#222" stroke-width="0.9"/>
<text transform="translate(553.89,639.00) scale(1.1130,1)" font-size="19.70" font-weight="400" fill="#111" >Mariúpol</text>
</svg>
<svg class="map" style="left:694px;top:1135px" width="656" height="446" viewBox="27 349 656 446">
<use href="#base"/>
<g clip-path="url(#ua)">
<g opacity="0.7">
<path d="M575.0 458.0 L570.0 468.0 L576.7 475.0 L586.7 483.0 L583.0 490.0 L591.7 498.0 L593.0 506.7 L601.7 515.0 L600.0 526.7 L596.7 533.0 L596.7 543.0 L591.7 555.0 L590.0 565.0 L585.0 572.0 L588.0 578.0 L620.0 578.0 L690.0 538.0 L690.0 430.0 L575.0 430.0 Z" fill="#ee9c81"/>
<path d="M420.8 673.0 L440.0 663.0 L453.0 655.0 L456.7 646.7 L462.5 633.0 L464.0 623.0 L467.8 623.4 L477.6 616.5 L486.5 613.6 L497.3 617.5 L502.2 616.5 L511.0 610.7 L526.7 605.8 L538.0 601.7 L545.0 595.0 L555.0 588.0 L555.0 583.0 L570.0 583.0 L588.0 578.0 L620.0 578.0 L640.0 640.0 L560.0 720.0 L440.0 720.0 L375.0 700.0 L375.0 685.0 L395.0 684.0 L405.0 680.0 L415.0 677.0 Z" fill="#ee9c81"/>
</g><g opacity="0.78">
<path d="M498.0 451.7 L515.0 466.7 L526.7 466.7 L535.0 475.0 L538.0 486.7 L545.0 500.0 L555.0 498.0 L551.7 505.0 L560.0 515.0 L576.7 511.7 L580.0 516.7 L593.0 513.0 L601.7 515.0 L593.0 506.7 L591.7 498.0 L583.0 490.0 L586.7 483.0 L576.7 475.0 L570.0 468.0 L575.0 458.0 L575.0 430.0 L498.0 430.0 Z" fill="#fcdf7c"/>
<path d="M430.0 620.8 L446.7 616.7 L460.0 619.0 L464.0 623.0 L462.5 633.0 L456.7 646.7 L453.0 655.0 L440.0 663.0 L423.0 671.7 L415.0 676.7 L405.0 679.0 L395.8 673.0 L396.7 668.0 L407.5 663.0 L407.5 653.0 L426.7 646.7 L433.0 638.0 L430.0 628.0 Z" fill="#fcdf7c"/>
<path d="M545.0 593.0 L555.0 588.0 L555.0 591.0 L546.0 596.0 Z" fill="#fcdf7c"/>
<path d="M571.0 583.0 L577.0 578.0 L579.0 583.0 Z" fill="#fcdf7c"/>
</g>
<path d="M604.0 529.3 L606.0 524.7 L613.0 522.0 L619.5 520.0 L627.8 520.5 L636.0 517.0 L644.0 518.0 L651.0 518.5 L655.0 517.0 L700.0 517.0 L700.0 620.0 L606.0 620.0 L605.0 613.0 L604.0 607.5 L602.5 600.3 L597.0 593.0 L591.7 587.0 L588.0 579.7 L586.6 573.6 L585.0 570.5 L588.0 565.3 L589.2 561.2 L591.7 556.0 L591.2 552.0 L594.8 547.8 L595.8 543.7 L600.0 541.6 L603.6 538.6 L606.7 534.4 Z" fill="url(#hatch)"/>
<path d="M467.0 705.0 L463.5 704.7 L463.5 690.7 L468.2 688.9 L473.8 691.7 L480.3 690.7 L486.8 695.4 L496.1 697.3 L505.4 701.0 L508.2 703.8 L512.0 702.0 L520.0 692.0 L600.0 700.0 L600.0 800.0 L400.0 800.0 L400.0 730.0 Z" fill="url(#hatch)"/>
<path d="M520.4 715.9 L523.1 721.5 L519.4 726.1 L524.1 727.1 L537.0 729.0 L533.4 725.2 L524.1 715.9 Z" fill="#b4c2d6"/>
</g>
<path d="M307.5 478.0 L310.0 473.0 L315.0 471.7 L318.0 475.0 L323.0 470.8 L327.5 472.5 L326.7 478.0 L329.0 481.0 L325.0 486.7 L322.5 492.5 L318.0 486.7 L313.0 481.7 L307.5 480.8 Z" fill="#e4e4e4" stroke="#777" stroke-width="0.9"/>
<circle cx="516.7" cy="470.5" r="2.9" fill="#000"/>
<circle cx="641.7" cy="522.0" r="2.9" fill="#000"/>
<circle cx="595.0" cy="564.5" r="2.9" fill="#000"/>
<circle cx="420.8" cy="673.2" r="2.9" fill="#000"/>
<circle cx="307.0" cy="476.3" r="2.9" fill="#000"/>
<circle cx="578.0" cy="521.5" r="2.9" fill="#000"/>
<circle cx="578.3" cy="527.7" r="2.9" fill="#000"/>
<circle cx="501.7" cy="593.5" r="2.9" fill="#000"/>
<circle cx="608.0" cy="508.7" r="2.9" fill="#000"/>
<circle cx="606.0" cy="511.2" r="2.9" fill="#000"/>
<circle cx="596.7" cy="615.5" r="2.9" fill="#000"/>
<circle cx="567.5" cy="475.5" r="2.9" fill="#000"/>
<text transform="translate(299.81,512.50) scale(0.9862,1)" font-size="19.70" font-weight="700" fill="#000" >KIEV</text>
<text transform="translate(446.70,485.80) scale(1.0887,1)" font-size="19.70" font-weight="400" fill="#111" >Járkov</text>
<text transform="translate(573.92,480.80) scale(1.0818,1)" font-size="19.70" font-weight="400" fill="#111" >Kupiansk</text>
<text transform="translate(349.00,667.50) scale(1.0836,1)" font-size="19.70" font-weight="400" fill="#111" >Jersón</text>
</svg>
<svg class="map" style="left:1361px;top:1135px" width="656" height="446" viewBox="27 349 656 446">
<use href="#base"/>
<g clip-path="url(#ua)">
<g opacity="0.7">
<path d="M575.0 458.0 L570.0 468.0 L576.7 475.0 L583.0 484.0 L584.0 489.0 L586.6 495.3 L590.7 500.5 L593.3 504.6 L592.2 508.7 L599.0 510.8 L601.0 515.0 L600.5 520.0 L597.0 524.0 L593.3 526.2 L592.2 532.4 L593.3 539.6 L594.8 543.7 L592.2 550.0 L587.6 564.3 L584.5 570.5 L586.6 576.6 L588.0 579.7 L620.0 578.0 L690.0 538.0 L690.0 430.0 L575.0 430.0 Z" fill="#ee9c81"/>
<path d="M420.8 673.0 L440.0 663.0 L453.0 655.0 L456.7 646.7 L462.5 633.0 L464.0 623.0 L467.8 623.4 L477.6 616.5 L486.5 613.6 L497.3 617.5 L502.2 616.5 L511.0 610.7 L526.7 605.8 L538.0 601.7 L545.0 595.0 L555.0 588.0 L555.0 583.0 L570.0 583.0 L588.0 578.0 L620.0 578.0 L640.0 640.0 L560.0 720.0 L440.0 720.0 L375.0 700.0 L375.0 685.0 L395.0 684.0 L405.0 680.0 L415.0 677.0 Z" fill="#ee9c81"/>
</g><g opacity="0.78">
</g>
<path d="M604.0 529.3 L606.0 524.7 L613.0 522.0 L619.5 520.0 L627.8 520.5 L636.0 517.0 L644.0 518.0 L651.0 518.5 L655.0 517.0 L700.0 517.0 L700.0 620.0 L606.0 620.0 L605.0 613.0 L604.0 607.5 L602.5 600.3 L597.0 593.0 L591.7 587.0 L588.0 579.7 L586.6 573.6 L585.0 570.5 L588.0 565.3 L589.2 561.2 L591.7 556.0 L591.2 552.0 L594.8 547.8 L595.8 543.7 L600.0 541.6 L603.6 538.6 L606.7 534.4 Z" fill="url(#hatch6)"/>
<path d="M467.0 705.0 L463.5 704.7 L463.5 690.7 L468.2 688.9 L473.8 691.7 L480.3 690.7 L486.8 695.4 L496.1 697.3 L505.4 701.0 L508.2 703.8 L512.0 702.0 L520.0 692.0 L600.0 700.0 L600.0 800.0 L400.0 800.0 L400.0 730.0 Z" fill="url(#hatch6)"/>
<path d="M520.4 715.9 L523.1 721.5 L519.4 726.1 L524.1 727.1 L537.0 729.0 L533.4 725.2 L524.1 715.9 Z" fill="#b4c2d6"/>
</g>
<path d="M307.5 478.0 L310.0 473.0 L315.0 471.7 L318.0 475.0 L323.0 470.8 L327.5 472.5 L326.7 478.0 L329.0 481.0 L325.0 486.7 L322.5 492.5 L318.0 486.7 L313.0 481.7 L307.5 480.8 Z" fill="#e4e4e4" stroke="#777" stroke-width="0.9"/>
<circle cx="516.7" cy="470.5" r="2.9" fill="#000"/>
<circle cx="641.7" cy="522.0" r="2.9" fill="#000"/>
<circle cx="595.0" cy="564.5" r="2.9" fill="#000"/>
<circle cx="420.8" cy="673.2" r="2.9" fill="#000"/>
<circle cx="307.0" cy="476.3" r="2.9" fill="#000"/>
<circle cx="578.0" cy="521.5" r="2.9" fill="#000"/>
<circle cx="578.3" cy="527.7" r="2.9" fill="#000"/>
<circle cx="501.7" cy="593.5" r="2.9" fill="#000"/>
<circle cx="608.0" cy="508.7" r="2.9" fill="#000"/>
<circle cx="606.0" cy="511.2" r="2.9" fill="#000"/>
<circle cx="596.7" cy="615.5" r="2.9" fill="#000"/>
<circle cx="567.5" cy="475.5" r="2.9" fill="#000"/>
<circle cx="595.0" cy="531.7" r="2.9" fill="#000"/>
<text transform="translate(299.81,512.50) scale(0.9862,1)" font-size="19.70" font-weight="700" fill="#000" >KIEV</text>
<text transform="translate(476.87,537.50) scale(1.1299,1)" font-size="19.70" font-weight="400" fill="#111" >Bajmut</text>
<path d="M549 532 H593" stroke="#222" stroke-width="0.9"/>
</svg>
<div class="abs" style="left:24px;top:150.5px;width:35px;height:22px;background:#f2b9a6"></div>
<div class="abs" style="left:470px;top:150.5px;width:34px;height:22px;background:#fde79c"></div>
<div class="abs" style="left:24px;top:895.5px;width:1993px;height:8px;background:#f1f1f1"></div>
<div class="abs" style="left:142.6px;top:894.5px;width:5.5px;height:10px;background:#3c4448"></div>
<div class="abs" style="left:287.1px;top:894.5px;width:5.5px;height:10px;background:#3c4448"></div>
<div class="abs" style="left:353.2px;top:894.5px;width:5.5px;height:10px;background:#3c4448"></div>
<div class="abs" style="left:873.6px;top:894.5px;width:5.5px;height:10px;background:#3c4448"></div>
<div class="abs" style="left:1470.7px;top:894.5px;width:5.5px;height:10px;background:#3c4448"></div>
<div class="abs" style="left:1877.5px;top:894.5px;width:5.5px;height:10px;background:#3c4448"></div>
<div class="abs" style="left:168.0px;top:905.5px;width:1px;height:20px;background:#9a9a9a"></div>
<div class="abs" style="left:327.3px;top:905.5px;width:1px;height:20px;background:#9a9a9a"></div>
<div class="abs" style="left:482.0px;top:905.5px;width:1px;height:20px;background:#9a9a9a"></div>
<div class="abs" style="left:641.9px;top:905.5px;width:1px;height:20px;background:#9a9a9a"></div>
<div class="abs" style="left:796.0px;top:905.5px;width:1px;height:20px;background:#9a9a9a"></div>
<div class="abs" style="left:955.7px;top:905.5px;width:1px;height:20px;background:#9a9a9a"></div>
<div class="abs" style="left:1114.7px;top:905.5px;width:1px;height:20px;background:#9a9a9a"></div>
<div class="abs" style="left:1264.0px;top:905.5px;width:1px;height:20px;background:#9a9a9a"></div>
<div class="abs" style="left:1418.9px;top:905.5px;width:1px;height:20px;background:#9a9a9a"></div>
<div class="abs" style="left:1567.7px;top:905.5px;width:1px;height:20px;background:#9a9a9a"></div>
<div class="abs" style="left:1722.5px;top:905.5px;width:1px;height:20px;background:#9a9a9a"></div>
<div class="abs" style="left:1876.7px;top:905.5px;width:1px;height:20px;background:#9a9a9a"></div>
<div class="abs" style="left:30px;top:811px;width:218.5px;height:61px;border:1px solid #6a6a6a;background:#fff;box-sizing:content-box"></div>
<div class="abs" style="left:144.8px;top:873px;width:1px;height:22px;background:#444"></div>
<div class="t" id="t0" style="left:25.61px;top:28.54px;font-size:52.75px;font-weight:700;color:#000;-webkit-text-stroke:1.0px #000;transform:scaleX(0.9642)">La evolución de la línea del frente desde el inicio de la invasión de Ucrania</div>
<div class="t" id="t1" style="left:23.78px;top:99.30px;font-size:29.42px;font-weight:400;color:#111;transform:scaleX(1.0081)">Posición de las fuerzas militares</div>
<div class="t" id="t2" style="left:72.80px;top:145.96px;font-size:28.99px;font-weight:400;color:#444;transform:scaleX(0.9140)">Avance u operaciones rusas</div>
<div class="t" id="t3" style="left:525.00px;top:145.96px;font-size:28.99px;font-weight:400;color:#444;transform:scaleX(0.9270)">Áreas recuperadas y contraofensivas reivindicadas por los ucranianos</div>
<div class="t" id="t4" style="left:25.20px;top:211.25px;font-size:28.41px;font-weight:700;color:#000;-webkit-text-stroke:0.4px #000;transform:scaleX(1.0373)">24 de febrero</div>
<div class="t" id="t5" style="left:695.20px;top:211.25px;font-size:28.41px;font-weight:700;color:#000;-webkit-text-stroke:0.4px #000;transform:scaleX(1.0265)">24 de marzo</div>
<div class="t" id="t6" style="left:1360.14px;top:211.25px;font-size:28.41px;font-weight:700;color:#000;-webkit-text-stroke:0.4px #000;transform:scaleX(1.0643)">6 de abril</div>
<div class="t" id="t7" style="left:23.01px;top:251.35px;font-size:26.52px;font-weight:400;color:#111;transform:scaleX(0.9944)">Inicio de la invasión con cuatro frentes:</div>
<div class="t" id="t8" style="left:24.02px;top:279.75px;font-size:26.52px;font-weight:400;color:#111;transform:scaleX(0.9769)">al norte hacia Kiev, al noreste hacia Járkov, al este</div>
<div class="t" id="t9" style="left:24.04px;top:307.55px;font-size:26.52px;font-weight:400;color:#111;transform:scaleX(0.9628)">en el Donbás y al sur hacia Jersón</div>
<div class="t" id="t10" style="left:693.10px;top:251.35px;font-size:26.52px;font-weight:400;color:#111;transform:scaleX(0.9512)">Las fuerzas rusas alcanza su mayor avance, y</div>
<div class="t" id="t11" style="left:694.02px;top:279.75px;font-size:26.52px;font-weight:400;color:#111;transform:scaleX(0.9843)">llegan a la periferia de Kiev, donde son detenidos</div>
<div class="t" id="t12" style="left:693.99px;top:307.55px;font-size:26.52px;font-weight:400;color:#111;transform:scaleX(1.0093)">en Irpin</div>
<div class="t" id="t13" style="left:1359.05px;top:251.35px;font-size:26.52px;font-weight:400;color:#111;transform:scaleX(0.9744)">Las tropas rusas se retiran del norte de Ucrania</div>
<div class="t" id="t14" style="left:1361.00px;top:279.75px;font-size:26.52px;font-weight:400;color:#111;transform:scaleX(0.9570)">y se concentran en el Donbás y en el sur</div>
<div class="t" id="t15" style="left:25.17px;top:993.75px;font-size:28.41px;font-weight:700;color:#000;-webkit-text-stroke:0.4px #000;transform:scaleX(1.0335)">15 de julio</div>
<div class="t" id="t16" style="left:694.16px;top:993.75px;font-size:28.41px;font-weight:700;color:#000;-webkit-text-stroke:0.4px #000;transform:scaleX(1.0442)">14 de noviembre</div>
<div class="t" id="t17" style="left:1360.66px;top:993.75px;font-size:28.41px;font-weight:700;color:#000;-webkit-text-stroke:0.4px #000;transform:scaleX(1.0441)">1º de febrero</div>
<div class="t" id="t18" style="left:24.03px;top:1033.05px;font-size:26.52px;font-weight:400;color:#111;transform:scaleX(0.9842)">El conflicto se estanca. El ejército ruso toma Mariúpol</div>
<div class="t" id="t19" style="left:25.03px;top:1061.55px;font-size:26.52px;font-weight:400;color:#111;transform:scaleX(0.9717)">(20 mayo), Severodonetsk (24 junio) y Lisichansk</div>
<div class="t" id="t20" style="left:25.02px;top:1089.05px;font-size:26.52px;font-weight:400;color:#111;transform:scaleX(0.9759)">(3 julio), pero la línea del frente apenas se mueve</div>
<div class="t" id="t21" style="left:693.07px;top:1033.05px;font-size:26.52px;font-weight:400;color:#111;transform:scaleX(0.9669)">Ucrania lanza contraofensivas en las regiones de Járkov</div>
<div class="t" id="t22" style="left:694.03px;top:1061.55px;font-size:26.52px;font-weight:400;color:#111;transform:scaleX(0.9709)">(finales de agosto y principios de sept.) y en Jersón</div>
<div class="t" id="t23" style="left:694.04px;top:1089.05px;font-size:26.52px;font-weight:400;color:#111;transform:scaleX(0.9577)">(mediados de nov.), reconquistando cerca de 17.000 km²</div>
<div class="t" id="t24" style="left:1359.56px;top:1033.05px;font-size:26.52px;font-weight:400;color:#111;transform:scaleX(0.9707)">La línea del frente se estabiliza de nuevo y los combates</div>
<div class="t" id="t25" style="left:1361.50px;top:1061.55px;font-size:26.52px;font-weight:400;color:#111;transform:scaleX(0.9827)">se intensifican en el Donbás, en torno a Bajmut.</div>
<div class="t" id="t26" style="left:1359.52px;top:1089.05px;font-size:26.52px;font-weight:400;color:#111;transform:scaleX(0.9897)">Rusia ocupa el 18,1% del territorio ucraniano</div>
<div class="t" id="t27" style="left:51.99px;top:817.83px;font-size:25.36px;font-weight:400;color:#111;transform:scaleX(1.0115)">24 febrero 2022</div>
<div class="t" id="t28" style="left:38.96px;top:841.53px;font-size:25.36px;font-weight:400;color:#444;transform:scaleX(1.0372)">inicio del conflicto</div>
<div class="t" id="t29" style="left:75.05px;top:915.13px;font-size:19.93px;font-weight:400;color:#222;transform:scaleX(0.9469)">FEB.</div>
<div class="t" id="t30" style="left:222.98px;top:915.13px;font-size:19.93px;font-weight:400;color:#222;transform:scaleX(1.0162)">MAR.</div>
<div class="t" id="t31" style="left:382.00px;top:915.13px;font-size:19.93px;font-weight:400;color:#222;transform:scaleX(1.0238)">ABR.</div>
<div class="t" id="t32" style="left:533.70px;top:915.13px;font-size:19.93px;font-weight:400;color:#222;transform:scaleX(0.9972)">MAYO</div>
<div class="t" id="t33" style="left:688.00px;top:915.13px;font-size:19.93px;font-weight:400;color:#222;transform:scaleX(1.0585)">JUNIO</div>
<div class="t" id="t34" style="left:846.70px;top:915.13px;font-size:19.93px;font-weight:400;color:#222;transform:scaleX(1.0602)">JULIO</div>
<div class="t" id="t35" style="left:1012.50px;top:915.13px;font-size:19.93px;font-weight:400;color:#222;transform:scaleX(0.9784)">AGOSTO</div>
<div class="t" id="t36" style="left:1163.00px;top:915.13px;font-size:19.93px;font-weight:400;color:#222;transform:scaleX(1.0040)">SEPT.</div>
<div class="t" id="t37" style="left:1320.00px;top:915.13px;font-size:19.93px;font-weight:400;color:#222;transform:scaleX(1.0020)">OCT.</div>
<div class="t" id="t38" style="left:1469.66px;top:915.13px;font-size:19.93px;font-weight:400;color:#222;transform:scaleX(1.0450)">NOV.</div>
<div class="t" id="t39" style="left:1625.65px;top:915.13px;font-size:19.93px;font-weight:400;color:#222;transform:scaleX(1.0461)">DIC.</div>
<div class="t" id="t40" style="left:1776.36px;top:915.13px;font-size:19.93px;font-weight:400;color:#222;transform:scaleX(1.0380)">ENE.</div>
<div class="t" id="t41" style="left:1924.98px;top:915.13px;font-size:19.93px;font-weight:400;color:#222;transform:scaleX(1.0236)">FEB.</div>
<div class="t" id="t42" style="left:71.94px;top:943.93px;font-size:19.93px;font-weight:400;color:#222;transform:scaleX(1.0645)">2022</div>
<div class="t" id="t43" style="left:1776.32px;top:943.93px;font-size:19.93px;font-weight:400;color:#222;transform:scaleX(1.0784)">2023</div>
<div class="t" id="t44" style="left:24.73px;top:1610.40px;font-size:21.74px;font-weight:400;color:#444;transform:scaleX(0.9742)">Fuentes: oficinas AFP, Institute for the Study of War and AEI’s Critical Threats Project</div>
<div class="t" id="t45" style="left:1002.03px;top:1610.40px;font-size:21.74px;font-weight:400;color:#444;transform:scaleX(0.9734)">Datos cartográficos: OSM</div>
<svg class="abs" style="left:1890px;top:1595px" width="140" height="45" viewBox="1890 1595 140 45"><g fill="#1f5aa8">
<path fill-rule="evenodd" d="M1902.7 1627.7 L1917.5 1603.7 L1928.7 1603.7 L1928.7 1627.7 L1922.8 1627.7 L1922.8 1623.3 L1913.0 1623.3 L1909.1 1627.7 Z M1916.3 1617.9 L1922.8 1617.9 L1922.8 1608.1 Z"/><path d="M1932.6 1603.7 L1951.3 1603.7 L1951.3 1609.1 L1939.0 1609.1 L1939.0 1613.5 L1950.3 1613.5 L1946.9 1618.9 L1939.0 1618.9 L1939.0 1627.7 L1932.6 1627.7 Z"/><path fill-rule="evenodd" d="M1954.2 1603.7 L1967.0 1603.7 Q1974.8 1603.7 1974.8 1612.1 Q1974.8 1620.4 1967.0 1620.4 L1960.1 1620.4 L1960.1 1627.7 L1954.2 1627.7 Z M1960.1 1609.1 L1966.0 1609.1 Q1968.9 1609.1 1968.9 1612.1 Q1968.9 1615.0 1966.0 1615.0 L1960.1 1615.0 Z"/>
<circle cx="1997.5" cy="1615.5" r="18.3"/></g></svg>
</body></html>
